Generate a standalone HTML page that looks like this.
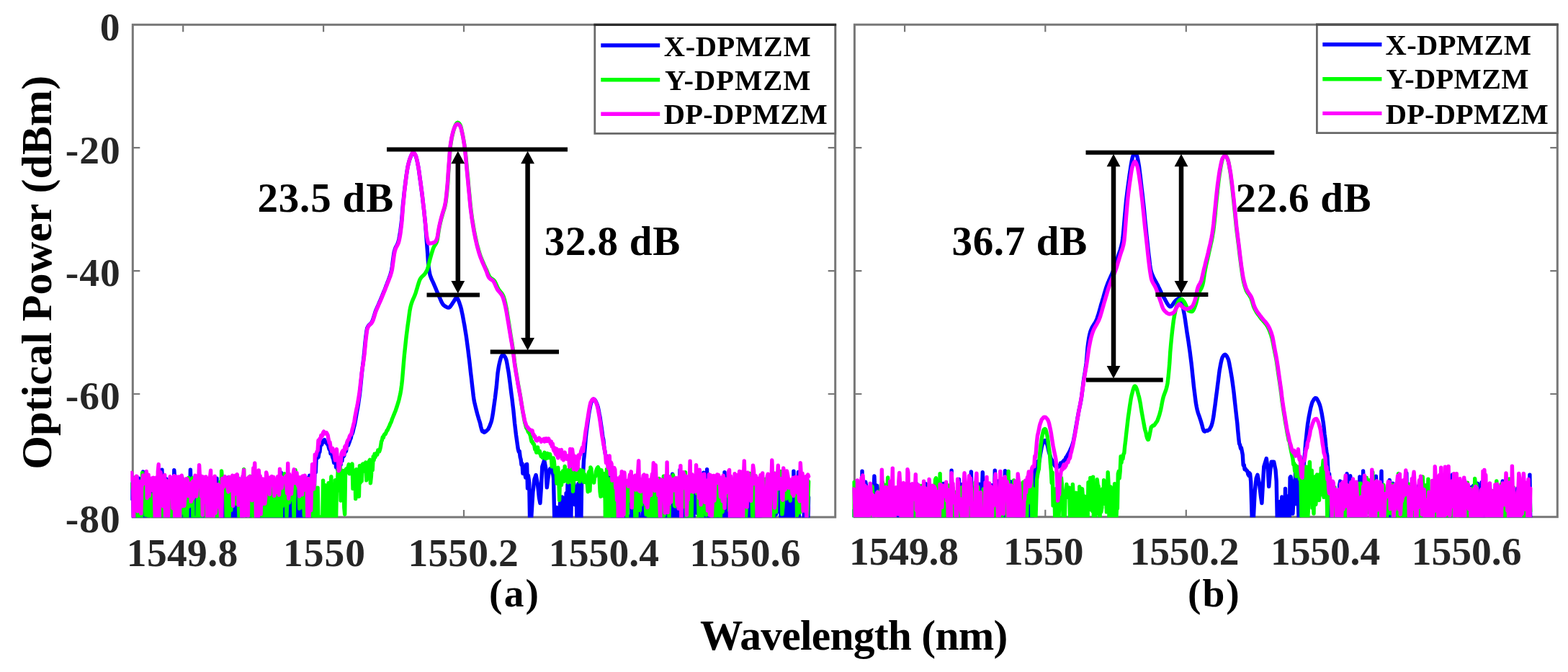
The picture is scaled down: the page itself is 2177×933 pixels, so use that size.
<!DOCTYPE html>
<html lang="en">
<head>
<meta charset="utf-8">
<title>Optical spectra: X-DPMZM, Y-DPMZM and DP-DPMZM</title>
<style>
html,body{margin:0;padding:0;background:#fff;}
body{width:2177px;height:933px;overflow:hidden;}
svg{display:block;filter:blur(0.6px);}
text{font-family:"Liberation Serif","Times New Roman",serif;font-weight:bold;fill:#000;}
.tk{fill:#262626;}
</style>
</head>
<body>
<svg width="2177" height="933" viewBox="0 0 2177 933">
<rect width="2177" height="933" fill="#fff"/>

<!-- left axes (a) -->
<rect x="184.3" y="34.3" width="975.4" height="683.7" fill="none" stroke="#777777" stroke-width="3"/>
<path d="M254.2,34.3v10M254.2,718.0v-10M449.1,34.3v10M449.1,718.0v-10M644.0,34.3v10M644.0,718.0v-10M838.9,34.3v10M838.9,718.0v-10M1033.8,34.3v10M1033.8,718.0v-10M184.3,205.2h10M1159.7,205.2h-10M184.3,376.1h10M1159.7,376.1h-10M184.3,547.0h10M1159.7,547.0h-10" fill="none" stroke="#777777" stroke-width="2.2"/>
<clipPath id="clipL"><rect x="181.3" y="34.3" width="978.4" height="684.3"/></clipPath>
<g clip-path="url(#clipL)" fill="none" stroke-width="5.4" stroke-linejoin="round" stroke-linecap="round">
<path stroke="#0000ff" d="M182.6,692.1 L183.5,672.5 184.5,668.0 185.4,723.2 186.4,674.4 187.3,691.8 188.2,698.1 189.2,726.0 190.1,695.0 191.1,726.0 192.0,726.0 192.9,664.2 193.9,700.4 194.8,726.0 195.8,669.8
196.7,688.6 197.6,677.8 198.6,654.9 199.5,726.0 200.5,726.0 201.4,726.0 202.3,705.3 203.3,726.0 204.2,726.0 205.2,726.0 206.1,675.5 207.0,699.8 208.0,686.7 208.9,672.5
209.9,669.3 210.8,664.7 211.7,669.2 212.7,704.6 213.6,726.0 214.6,666.5 215.5,726.0 216.4,673.9 217.4,726.0 218.3,703.2 219.3,726.0 220.2,691.2 221.1,688.4 222.1,668.1
223.0,726.0 224.0,701.1 224.9,652.2 225.8,696.5 226.8,726.0 227.7,726.0 228.7,726.0 229.6,726.0 230.5,664.6 231.5,692.3 232.4,701.0 233.4,666.7 234.3,726.0 235.2,724.4
236.2,726.0 237.1,726.0 238.1,707.0 239.0,711.7 239.9,726.0 240.9,726.0 241.8,652.8 242.8,667.4 243.7,722.5 244.6,681.5 245.6,726.0 246.5,726.0 247.5,697.0 248.4,726.0
249.3,688.9 250.3,726.0 251.2,726.0 252.2,726.0 253.1,700.8 254.0,690.7 255.0,724.6 255.9,680.8 256.9,726.0 257.8,697.9 258.7,676.6 259.7,696.9 260.6,726.0 261.6,685.6
262.5,721.6 263.4,699.6 264.4,652.2 265.3,690.5 266.3,670.3 267.2,726.0 268.1,726.0 269.1,690.7 270.0,726.0 271.0,717.0 271.9,670.7 272.8,726.0 273.8,726.0 274.7,726.0
275.7,726.0 276.6,704.4 277.5,669.6 278.5,666.6 279.4,681.2 280.4,726.0 281.3,674.2 282.2,726.0 283.2,720.8 284.1,701.1 285.1,726.0 286.0,726.0 286.9,678.4 287.9,695.9
288.8,726.0 289.8,664.6 290.7,726.0 291.6,687.3 292.6,726.0 293.5,711.6 294.5,666.6 295.4,701.3 296.3,666.9 297.3,707.5 298.2,671.7 299.2,666.9 300.1,726.0 301.0,664.2
302.0,726.0 302.9,683.6 303.9,695.9 304.8,685.5 305.7,726.0 306.7,726.0 307.6,662.6 308.6,678.4 309.5,726.0 310.4,703.7 311.4,726.0 312.3,726.0 313.3,698.9 314.2,673.2
315.1,689.9 316.1,714.9 317.0,662.9 318.0,717.8 318.9,699.7 319.8,681.6 320.8,714.9 321.7,709.7 322.7,726.0 323.6,676.6 324.5,726.0 325.5,687.5 326.4,725.6 327.4,684.0
328.3,726.0 329.2,726.0 330.2,726.0 331.1,689.5 332.1,726.0 333.0,665.3 333.9,667.8 334.9,726.0 335.8,726.0 336.8,716.0 337.7,684.5 338.6,726.0 339.6,667.9 340.5,666.5
341.5,726.0 342.4,726.0 343.3,690.9 344.3,699.0 345.2,726.0 346.2,726.0 347.1,704.7 348.0,706.8 349.0,668.1 349.9,683.7 350.9,702.3 351.8,667.9 352.7,654.8 353.7,709.9
354.6,681.9 355.6,670.5 356.5,726.0 357.4,690.6 358.4,726.0 359.3,669.3 360.3,664.7 361.2,726.0 362.1,724.2 363.1,726.0 364.0,677.6 365.0,667.4 365.9,685.2 366.8,703.9
367.8,726.0 368.7,698.9 369.7,696.5 370.6,694.1 371.5,726.0 372.5,726.0 373.4,690.0 374.4,705.7 375.3,704.3 376.2,686.5 377.2,726.0 378.1,707.0 379.1,726.0 380.0,713.4
380.9,686.3 381.9,683.9 382.8,726.0 383.8,726.0 384.7,726.0 385.6,676.6 386.6,711.5 387.5,726.0 388.5,702.0 389.4,726.0 390.3,656.2 391.3,662.0 392.2,667.5 393.2,726.0
394.1,670.5 395.0,726.0 396.0,686.9 396.9,726.0 397.9,703.5 398.8,680.7 399.7,726.0 400.7,721.6 401.6,726.0 402.6,726.0 403.5,697.1 404.4,720.0 405.4,706.5 406.3,726.0
407.3,726.0 408.2,699.6 409.1,726.0 410.1,726.0 411.0,665.8 412.0,726.0 412.9,702.9 413.8,674.9 414.8,683.1 415.7,721.7 416.7,666.1 417.6,726.0 418.5,666.4 419.5,669.7
420.4,714.7 421.4,693.3 422.3,685.7 423.2,726.0 424.2,726.0 425.1,687.2 426.1,701.4 427.0,663.9 427.9,726.0 428.9,713.6 429.8,660.3 430.8,718.6 431.7,671.4 432.6,683.8
433.6,699.8 434.5,686.0 435.5,683.7 436.4,675.6 437.3,643.5 438.3,655.8 439.2,633.7 440.2,629.2 441.1,635.5 442.0,634.7 443.0,628.7 443.9,627.5 444.9,618.6 445.8,617.5
446.7,617.4 447.7,611.9 448.6,614.3 449.6,613.4 450.5,610.6 451.4,612.9 452.4,613.5 453.3,615.0 454.3,616.7 455.2,616.7 456.1,620.0 457.1,623.7 458.0,621.9 459.0,629.8
459.9,628.0 460.8,630.9 461.8,635.2 462.7,637.1 463.7,642.6 464.6,636.6 465.5,628.3 466.5,648.6 467.4,640.3 468.4,651.6 469.3,651.0 470.2,644.2 471.2,653.0 472.1,643.8
473.1,645.4 474.0,637.4 474.9,640.0 475.9,629.7 476.8,633.8 477.8,632.5 478.7,625.8 479.6,627.5 480.6,626.0 481.5,617.6 482.5,618.5 483.4,618.3 484.3,615.8 485.3,613.3
486.2,610.2 487.2,608.2 488.1,603.2 489.0,602.3 490.0,599.3 490.9,595.1 491.9,591.3 492.8,587.5 493.7,582.5 494.7,576.5 495.6,571.5 496.6,566.2 497.5,560.7 498.4,554.7
499.4,547.8 500.3,539.5 501.3,529.4 502.2,519.6 503.1,511.6 504.1,504.2 505.0,496.4 506.0,486.9 506.9,476.6 507.8,468.1 508.8,460.5 509.7,455.7 510.7,453.7 511.6,452.3
512.5,451.2 513.5,450.4 514.4,449.5 515.4,448.5 516.3,447.1 517.2,445.2 518.2,442.5 519.1,439.4 520.1,436.2 521.0,433.3 521.9,430.9 522.9,428.6 523.8,426.4 524.8,424.3
525.7,422.2 526.6,420.1 527.6,417.9 528.5,415.7 529.5,413.4 530.4,411.2 531.3,408.9 532.3,406.6 533.2,404.3 534.2,402.0 535.1,399.6 536.0,397.1 537.0,394.7 537.9,392.2
538.9,389.8 539.8,387.4 540.7,384.9 541.7,382.2 542.6,379.0 543.6,375.3 544.5,369.6 545.4,362.3 546.4,355.1 547.3,349.5 548.3,346.2 549.2,343.8 550.1,342.0 551.1,340.3
552.0,338.3 553.0,335.7 553.9,332.1 554.8,327.1 555.8,320.9 556.7,313.8 557.7,305.2 558.6,294.1 559.5,283.6 560.5,274.5 561.4,265.8 562.4,257.7 563.3,250.4 564.2,243.5
565.2,237.1 566.1,231.6 567.1,227.4 568.0,224.0 568.9,221.0 569.9,218.4 570.8,216.2 571.8,214.1 572.7,212.3 573.6,211.8 574.6,212.4 575.5,213.4 576.5,214.9 577.4,216.7
578.3,219.9 579.3,224.1 580.2,228.8 581.2,234.1 582.1,240.5 583.0,247.3 584.0,254.2 584.9,261.3 585.9,268.7 586.8,276.3 587.7,284.3 588.7,292.5 589.6,301.3 590.6,311.4
591.5,323.4 592.4,335.8 593.4,348.4 594.3,361.8 595.3,372.4 596.2,377.9 597.1,381.8 598.1,384.8 599.0,387.2 600.0,389.3 600.9,391.2 601.8,393.2 602.8,395.4 603.7,397.6
604.7,399.9 605.6,402.1 606.5,404.4 607.5,406.5 608.4,408.6 609.4,410.7 610.3,412.9 611.2,415.1 612.2,417.3 613.1,419.4 614.1,421.2 615.0,422.6 615.9,423.6 616.9,424.4
617.8,425.1 618.8,425.7 619.7,426.2 620.6,426.7 621.6,427.0 622.5,427.1 623.5,427.0 624.4,426.4 625.3,425.4 626.3,424.1 627.2,422.7 628.2,421.2 629.1,419.8 630.0,418.5
631.0,416.9 631.9,415.2 632.9,413.8 633.8,413.3 634.7,413.8 635.7,415.2 636.6,417.3 637.6,419.8 638.5,422.5 639.4,425.3 640.4,428.9 641.3,433.2 642.3,437.8 643.2,442.7
644.1,447.7 645.1,453.1 646.0,458.8 647.0,464.9 647.9,471.2 648.8,478.0 649.8,485.3 650.7,492.9 651.7,500.7 652.6,508.8 653.5,517.1 654.5,525.4 655.4,533.6 656.4,542.0
657.3,549.9 658.2,556.1 659.2,560.7 660.1,564.3 661.1,568.5 662.0,572.0 662.9,575.4 663.9,578.8 664.8,582.0 665.8,585.0 666.7,588.1 667.6,592.4 668.6,596.1 669.5,598.7
670.5,599.4 671.4,598.8 672.3,600.3 673.3,599.8 674.2,599.1 675.2,598.3 676.1,597.7 677.0,596.5 678.0,595.7 678.9,593.4 679.9,591.7 680.8,588.9 681.7,586.7 682.7,583.3
683.6,578.6 684.6,572.5 685.5,565.9 686.4,559.3 687.4,552.3 688.3,544.8 689.3,536.7 690.2,526.7 691.1,517.3 692.1,511.0 693.0,506.1 694.0,501.9 694.9,498.4 695.8,495.7
696.8,493.9 697.7,492.7 698.7,492.6 699.6,493.3 700.5,494.6 701.5,496.1 702.4,498.1 703.4,501.6 704.3,506.4 705.2,511.7 706.2,517.4 707.1,524.2 708.1,531.5 709.0,538.8
709.9,546.1 710.9,553.4 711.8,561.2 712.8,569.3 713.7,578.4 714.6,587.8 715.6,596.2 716.5,603.9 717.5,610.8 718.4,617.3 719.3,623.5 720.3,627.2 721.2,626.5 722.2,634.8
723.1,637.7 724.0,645.4 725.0,643.6 725.9,657.4 726.9,657.1 727.8,657.6 728.7,657.3 729.7,663.0 730.6,644.8 731.6,644.6 732.5,677.9 733.4,660.0 734.7,669.6 735.6,722.0
737.5,722.0 739.8,684.0 742.0,665.3 744.1,659.5 746.3,671.0 748.5,691.3 749.9,698.5 751.4,676.8 752.8,647.9 755.7,639.2 757.9,650.8 759.3,676.8 761.5,659.5 763.7,650.8
766.6,649.3 768.5,664.0 769.8,722.0 770.1,726.0 771.0,726.0 772.0,706.9 772.9,704.5 773.9,721.9 774.8,726.0 775.7,726.0 776.7,726.0 777.6,697.0 778.6,698.3 779.5,702.1
780.4,690.0 781.4,726.0 782.3,717.8 783.3,709.3 784.2,691.1 785.1,718.6 786.1,684.7 787.0,726.0 788.0,672.7 788.9,677.5 789.8,672.8 790.8,726.0 791.7,675.1 792.7,726.0
793.6,679.2 794.5,688.2 795.5,668.0 796.4,668.7 797.4,675.8 798.3,700.7 799.2,687.2 800.2,691.8 801.1,726.0 802.1,675.4 803.0,671.6 803.9,705.3 804.9,726.0 805.8,684.1
806.8,726.0 807.7,664.8 808.6,653.1 809.6,657.3 810.5,639.0 811.5,629.9 812.4,619.2 813.3,607.7 814.3,598.7 815.2,592.2 816.2,585.0 817.1,578.1 818.0,572.3 819.0,567.0
819.9,562.2 820.9,558.7 821.8,557.0 822.7,555.3 823.7,554.6 824.6,554.3 825.6,554.9 826.5,556.1 827.4,557.8 828.4,559.9 829.3,562.2 830.3,565.6 831.2,569.8 832.1,574.8
833.1,579.6 834.0,586.1 835.0,592.7 835.9,598.8 836.8,606.3 837.8,610.5 838.7,620.3 839.7,625.7 840.6,631.4 841.5,632.9 842.5,640.5 843.4,637.1 844.4,646.4 845.3,647.6
846.2,663.7 847.2,653.1 848.1,675.0 849.1,700.2 850.0,685.1 850.9,726.0 851.9,675.0 852.8,670.6 853.8,713.5 854.7,669.9 855.6,670.1 856.6,714.5 857.5,726.0 858.5,726.0
859.4,703.3 860.3,726.0 861.3,726.0 862.2,696.2 863.2,683.8 864.1,681.0 865.0,726.0 866.0,701.5 866.9,686.6 867.9,690.8 868.8,709.3 869.7,726.0 870.7,726.0 871.6,726.0
872.6,726.0 873.5,726.0 874.4,724.2 875.4,716.1 876.3,726.0 877.3,664.0 878.2,687.5 879.1,726.0 880.1,714.4 881.0,726.0 882.0,717.4 882.9,726.0 883.8,726.0 884.8,697.9
885.7,726.0 886.7,711.5 887.6,726.0 888.5,726.0 889.5,726.0 890.4,719.0 891.4,726.0 892.3,726.0 893.2,676.0 894.2,726.0 895.1,726.0 896.1,697.2 897.0,676.2 897.9,726.0
898.9,726.0 899.8,726.0 900.8,675.2 901.7,707.8 902.6,726.0 903.6,708.7 904.5,665.4 905.5,695.7 906.4,712.8 907.3,724.3 908.3,672.2 909.2,690.5 910.2,726.0 911.1,726.0
912.0,698.4 913.0,723.3 913.9,726.0 914.9,695.8 915.8,671.6 916.7,726.0 917.7,686.8 918.6,668.4 919.6,721.4 920.5,726.0 921.4,722.2 922.4,722.9 923.3,703.6 924.3,726.0
925.2,669.4 926.1,726.0 927.1,700.6 928.0,693.6 929.0,678.5 929.9,723.0 930.8,696.4 931.8,726.0 932.7,702.5 933.7,658.2 934.6,671.2 935.5,705.6 936.5,676.1 937.4,721.7
938.4,682.2 939.3,679.7 940.2,704.1 941.2,712.7 942.1,726.0 943.1,726.0 944.0,652.1 944.9,672.3 945.9,680.4 946.8,672.5 947.8,725.2 948.7,681.3 949.6,681.7 950.6,709.0
951.5,726.0 952.5,712.7 953.4,726.0 954.3,685.6 955.3,700.0 956.2,681.4 957.2,721.4 958.1,726.0 959.0,693.9 960.0,681.1 960.9,712.1 961.9,678.0 962.8,726.0 963.7,692.3
964.7,665.2 965.6,704.1 966.6,672.4 967.5,698.0 968.4,712.9 969.4,689.5 970.3,674.2 971.3,659.0 972.2,707.2 973.1,726.0 974.1,700.8 975.0,665.3 976.0,712.2 976.9,656.3
977.8,726.0 978.8,726.0 979.7,667.4 980.7,704.6 981.6,651.8 982.5,726.0 983.5,671.8 984.4,715.3 985.4,726.0 986.3,703.8 987.2,726.0 988.2,700.0 989.1,671.1 990.1,722.8
991.0,726.0 991.9,669.5 992.9,709.0 993.8,726.0 994.8,726.0 995.7,722.8 996.6,726.0 997.6,726.0 998.5,664.5 999.5,695.3 1000.4,692.8 1001.3,670.5 1002.3,726.0 1003.2,680.4
1004.2,690.5 1005.1,726.0 1006.0,655.7 1007.0,685.6 1007.9,718.4 1008.9,726.0 1009.8,668.1 1010.7,726.0 1011.7,721.2 1012.6,726.0 1013.6,711.5 1014.5,721.1 1015.4,726.0 1016.4,719.3
1017.3,695.5 1018.3,726.0 1019.2,668.9 1020.1,671.9 1021.1,710.4 1022.0,676.9 1023.0,679.4 1023.9,717.5 1024.8,694.9 1025.8,726.0 1026.7,680.8 1027.7,726.0 1028.6,726.0 1029.5,682.3
1030.5,681.9 1031.4,685.4 1032.4,726.0 1033.3,696.3 1034.2,716.6 1035.2,688.5 1036.1,715.7 1037.1,723.3 1038.0,670.8 1038.9,660.0 1039.9,693.1 1040.8,677.8 1041.8,724.6 1042.7,688.5
1043.6,674.1 1044.6,710.4 1045.5,668.3 1046.5,662.9 1047.4,699.3 1048.3,669.2 1049.3,726.0 1050.2,726.0 1051.2,664.5 1052.1,726.0 1053.0,714.5 1054.0,685.8 1054.9,685.9 1055.9,672.2
1056.8,666.5 1057.7,726.0 1058.7,726.0 1059.6,726.0 1060.6,708.7 1061.5,671.7 1062.4,726.0 1063.4,688.8 1064.3,726.0 1065.3,723.2 1066.2,710.6 1067.1,667.9 1068.1,668.7 1069.0,687.5
1070.0,726.0 1070.9,688.4 1071.8,726.0 1072.8,711.8 1073.7,685.2 1074.7,726.0 1075.6,671.2 1076.5,670.8 1077.5,714.0 1078.4,680.4 1079.4,685.2 1080.3,710.4 1081.2,688.3 1082.2,667.6
1083.1,679.7 1084.1,726.0 1085.0,708.4 1085.9,720.4 1086.9,672.9 1087.8,709.3 1088.8,677.7 1089.7,726.0 1090.6,691.4 1091.6,697.3 1092.5,695.3 1093.5,669.8 1094.4,668.5 1095.3,726.0
1096.3,726.0 1097.2,726.0 1098.2,702.5 1099.1,714.5 1100.0,672.9 1101.0,726.0 1101.9,654.1 1102.9,699.7 1103.8,691.2 1104.7,713.8 1105.7,671.1 1106.6,666.5 1107.6,720.0 1108.5,655.4
1109.4,726.0 1110.4,726.0 1111.3,726.0 1112.3,726.0 1113.2,726.0 1114.1,726.0 1115.1,719.9 1116.0,726.0 1117.0,681.3 1117.9,692.4 1118.8,704.8 1119.8,698.1 1120.7,665.4 1121.7,726.0
1122.6,690.5"/>
<path stroke="#00ff00" d="M182.6,672.2 L183.5,675.7 184.5,680.2 185.4,689.7 186.4,663.3 187.3,688.2 188.2,668.3 189.2,666.3 190.1,679.5 191.1,726.0 192.0,680.4 192.9,670.4 193.9,680.7 194.8,670.9 195.8,726.0
196.7,709.5 197.6,656.5 198.6,665.6 199.5,691.8 200.5,690.0 201.4,672.5 202.3,715.1 203.3,694.6 204.2,680.8 205.2,660.8 206.1,674.7 207.0,726.0 208.0,726.0 208.9,699.1
209.9,687.5 210.8,726.0 211.7,687.4 212.7,726.0 213.6,683.4 214.6,665.1 215.5,701.8 216.4,669.5 217.4,664.1 218.3,715.1 219.3,726.0 220.2,726.0 221.1,657.4 222.1,704.4
223.0,669.2 224.0,667.5 224.9,692.4 225.8,674.6 226.8,726.0 227.7,685.7 228.7,672.3 229.6,726.0 230.5,694.6 231.5,673.4 232.4,671.7 233.4,667.9 234.3,698.8 235.2,711.8
236.2,704.9 237.1,726.0 238.1,726.0 239.0,695.5 239.9,679.4 240.9,723.9 241.8,726.0 242.8,666.4 243.7,682.1 244.6,671.8 245.6,663.7 246.5,664.5 247.5,666.7 248.4,726.0
249.3,726.0 250.3,725.8 251.2,674.3 252.2,712.2 253.1,663.5 254.0,688.7 255.0,686.4 255.9,667.2 256.9,726.0 257.8,682.2 258.7,675.4 259.7,723.2 260.6,669.0 261.6,663.4
262.5,703.0 263.4,664.9 264.4,686.7 265.3,679.8 266.3,688.6 267.2,663.6 268.1,726.0 269.1,724.4 270.0,726.0 271.0,726.0 271.9,726.0 272.8,718.5 273.8,726.0 274.7,676.9
275.7,706.7 276.6,700.0 277.5,679.8 278.5,726.0 279.4,726.0 280.4,664.4 281.3,692.8 282.2,711.0 283.2,711.5 284.1,684.8 285.1,668.7 286.0,726.0 286.9,666.3 287.9,664.9
288.8,674.1 289.8,726.0 290.7,676.2 291.6,724.1 292.6,688.7 293.5,682.2 294.5,716.1 295.4,726.0 296.3,664.2 297.3,667.3 298.2,666.0 299.2,726.0 300.1,681.6 301.0,726.0
302.0,726.0 302.9,694.1 303.9,690.2 304.8,712.3 305.7,669.2 306.7,707.8 307.6,653.9 308.6,668.1 309.5,673.6 310.4,662.2 311.4,684.2 312.3,666.9 313.3,667.8 314.2,721.3
315.1,721.9 316.1,695.6 317.0,667.9 318.0,718.4 318.9,694.0 319.8,664.6 320.8,708.3 321.7,681.5 322.7,687.4 323.6,691.6 324.5,686.1 325.5,672.5 326.4,669.5 327.4,696.7
328.3,699.6 329.2,667.9 330.2,663.4 331.1,692.6 332.1,722.9 333.0,687.8 333.9,666.8 334.9,674.0 335.8,696.6 336.8,698.1 337.7,700.7 338.6,651.6 339.6,726.0 340.5,675.6
341.5,681.5 342.4,726.0 343.3,672.0 344.3,726.0 345.2,718.9 346.2,673.1 347.1,661.3 348.0,683.0 349.0,684.9 349.9,671.3 350.9,717.9 351.8,670.8 352.7,671.8 353.7,681.4
354.6,672.5 355.6,681.7 356.5,678.4 357.4,665.6 358.4,663.1 359.3,685.8 360.3,693.6 361.2,714.1 362.1,698.9 363.1,706.8 364.0,718.0 365.0,681.2 365.9,676.9 366.8,713.4
367.8,693.6 368.7,712.3 369.7,722.5 370.6,678.3 371.5,691.1 372.5,721.8 373.4,667.9 374.4,723.4 375.3,712.1 376.2,715.7 377.2,680.2 378.1,682.7 379.1,726.0 380.0,665.1
380.9,702.5 381.9,726.0 382.8,726.0 383.8,683.3 384.7,699.9 385.6,720.4 386.6,678.8 387.5,690.1 388.5,708.1 389.4,720.8 390.3,723.0 391.3,677.4 392.2,702.9 393.2,690.8
394.1,678.4 395.0,657.6 396.0,675.4 396.9,669.0 397.9,717.1 398.8,695.7 399.7,678.8 400.7,677.6 401.6,697.7 402.6,674.7 403.5,685.6 404.4,678.4 405.4,665.0 406.3,694.0
407.3,679.7 408.2,726.0 409.1,676.9 410.1,652.5 411.0,677.3 412.0,673.9 412.9,663.8 413.8,666.2 414.8,667.2 415.7,706.0 416.7,674.8 417.6,670.4 418.5,687.3 419.5,693.4
420.4,705.0 421.4,668.4 422.3,715.8 423.2,669.1 424.2,692.1 425.1,678.6 426.1,674.8 427.0,677.5 427.9,707.4 428.9,670.4 429.8,693.8 430.8,664.1 431.7,726.0 432.6,664.6
433.6,684.2 434.5,699.5 435.5,719.1 436.4,665.2 437.3,719.2 438.3,724.6 439.2,693.2 440.2,718.2 441.1,677.1 442.0,726.0 443.0,726.0 443.9,721.7 444.9,724.5 445.8,717.8
446.7,726.0 447.7,726.0 448.6,667.2 449.6,726.0 450.5,726.0 451.4,673.6 452.4,726.0 453.3,691.3 454.3,726.0 455.2,726.0 456.1,670.8 457.1,726.0 458.0,715.4 459.0,677.1
459.9,661.7 460.8,726.0 461.8,683.9 462.7,676.2 463.7,676.0 464.6,726.0 465.5,666.6 466.5,726.0 467.4,677.8 468.4,673.3 469.3,651.7 470.2,680.9 471.2,653.4 472.1,646.9
473.1,695.0 474.0,656.5 474.9,664.6 475.9,653.5 476.8,658.9 477.8,704.7 478.7,714.2 479.6,652.8 480.6,651.0 481.5,656.0 482.5,651.4 483.4,648.1 484.3,644.8 485.3,657.9
486.2,647.7 487.2,645.8 488.1,647.3 489.0,644.0 490.0,678.4 490.9,657.2 491.9,663.5 492.8,653.6 493.7,692.5 494.7,651.6 495.6,658.1 496.6,674.2 497.5,665.4 498.4,689.3
499.4,646.6 500.3,670.3 501.3,650.9 502.2,668.0 503.1,645.0 504.1,644.0 505.0,654.1 506.0,648.8 506.9,651.2 507.8,641.9 508.8,666.8 509.7,657.7 510.7,648.8 511.6,663.0
512.5,640.3 513.5,638.4 514.4,670.8 515.4,661.0 516.3,643.3 517.2,652.9 518.2,633.6 519.1,639.0 520.1,630.2 521.0,634.8 521.9,630.4 522.9,629.2 523.8,631.2 524.8,624.9
525.7,626.5 526.6,626.8 527.6,623.8 528.5,619.8 529.5,613.0 530.4,611.2 531.3,606.9 532.3,607.5 533.2,604.0 534.2,602.8 535.1,602.7 536.0,600.6 537.0,597.8 537.9,597.5
538.9,595.0 539.8,592.9 540.7,591.2 541.7,588.5 542.6,586.9 543.6,584.4 544.5,581.5 545.4,579.5 546.4,576.9 547.3,574.9 548.3,572.3 549.2,570.2 550.1,567.4 551.1,564.5
552.0,561.5 553.0,558.4 553.9,555.1 554.8,551.2 555.8,546.9 556.7,541.5 557.7,534.4 558.6,526.1 559.5,515.0 560.5,503.1 561.4,492.8 562.4,483.4 563.3,474.7 564.2,466.6
565.2,458.9 566.1,451.7 567.1,444.8 568.0,437.8 568.9,431.4 569.9,426.4 570.8,422.9 571.8,419.9 572.7,417.4 573.6,415.2 574.6,413.1 575.5,410.9 576.5,408.5 577.4,405.8
578.3,402.8 579.3,399.5 580.2,396.3 581.2,393.2 582.1,390.4 583.0,388.1 584.0,386.5 584.9,385.2 585.9,384.2 586.8,383.3 587.7,382.5 588.7,381.6 589.6,380.5 590.6,379.2
591.5,377.7 592.4,375.9 593.4,373.8 594.3,370.8 595.3,367.0 596.2,363.1 597.1,359.5 598.1,356.1 599.0,352.8 600.0,349.6 600.9,346.6 601.8,344.1 602.8,342.1 603.7,340.6
604.7,339.2 605.6,337.7 606.5,335.5 607.5,331.4 608.4,325.0 609.4,318.5 610.3,313.7 611.2,309.6 612.2,305.8 613.1,302.2 614.1,298.7 615.0,295.5 615.9,292.7 616.9,289.7
617.8,286.2 618.8,281.3 619.7,274.5 620.6,266.0 621.6,255.4 622.5,240.8 623.5,227.0 624.4,214.1 625.3,203.4 626.3,196.8 627.2,191.5 628.2,187.2 629.1,183.6 630.0,180.3
631.0,177.3 631.9,174.7 632.9,172.7 633.8,171.4 634.7,170.5 635.7,170.2 636.6,170.6 637.6,171.5 638.5,172.8 639.4,174.6 640.4,178.0 641.3,182.4 642.3,187.1 643.2,191.8
644.1,197.0 645.1,202.9 646.0,210.1 647.0,219.3 647.9,229.3 648.8,239.1 649.8,249.3 650.7,259.4 651.7,269.3 652.6,279.2 653.5,288.4 654.5,296.1 655.4,302.9 656.4,308.9
657.3,314.5 658.2,319.7 659.2,324.7 660.1,329.4 661.1,333.8 662.0,337.9 662.9,341.6 663.9,345.1 664.8,348.4 665.8,351.5 666.7,354.3 667.6,357.0 668.6,359.4 669.5,361.7
670.5,363.9 671.4,366.0 672.3,368.1 673.3,370.1 674.2,372.1 675.2,374.1 676.1,376.2 677.0,378.5 678.0,380.8 678.9,382.9 679.9,384.5 680.8,385.6 681.7,386.4 682.7,387.0
683.6,387.6 684.6,388.3 685.5,389.1 686.4,390.1 687.4,391.6 688.3,393.5 689.3,395.6 690.2,397.7 691.1,399.7 692.1,401.4 693.0,402.8 694.0,404.0 694.9,405.1 695.8,406.3
696.8,407.5 697.7,408.9 698.7,410.7 699.6,413.1 700.5,416.5 701.5,420.4 702.4,424.6 703.4,429.6 704.3,435.2 705.2,441.0 706.2,446.9 707.1,453.1 708.1,459.3 709.0,465.2
709.9,470.7 710.9,476.3 711.8,482.2 712.8,488.9 713.7,496.4 714.6,503.8 715.6,510.5 716.5,516.5 717.5,522.1 718.4,527.6 719.3,533.0 720.3,538.3 721.2,543.4 722.2,548.6
723.1,554.1 724.0,560.2 725.0,566.3 725.9,572.0 726.9,577.0 727.8,582.2 728.7,586.7 729.7,590.0 730.6,593.7 731.6,595.3 732.5,597.0 733.4,599.7 734.4,600.4 735.3,602.2
736.3,604.6 737.2,609.3 738.1,613.0 739.1,613.1 740.0,616.0 741.0,616.2 741.9,618.7 742.8,624.1 743.8,624.5 744.7,628.2 745.7,624.6 746.6,621.1 747.5,628.2 748.5,626.6
749.4,626.5 750.4,631.1 751.3,633.5 752.2,631.3 753.2,635.3 754.1,633.5 755.1,635.4 756.0,628.3 756.9,632.5 757.9,636.9 758.8,635.8 759.8,629.5 760.7,635.8 761.6,630.1
762.6,632.7 763.5,630.5 764.5,636.1 765.4,635.6 766.3,647.9 767.3,643.4 768.2,635.9 769.2,639.7 770.1,649.3 771.0,656.1 772.0,651.0 772.9,671.0 773.9,661.5 774.8,649.2
775.7,663.8 776.7,694.3 777.6,656.7 778.6,663.3 779.5,673.5 780.4,662.7 781.4,654.0 782.3,654.2 783.3,668.2 784.2,647.4 785.1,660.0 786.1,667.7 787.0,659.1 788.0,652.9
788.9,669.9 789.8,661.6 790.8,649.9 791.7,667.9 792.7,647.4 793.6,652.3 794.5,649.0 795.5,682.2 796.4,664.3 797.4,650.0 798.3,659.8 799.2,656.8 800.2,665.6 801.1,662.0
802.1,651.2 803.0,652.5 803.9,651.9 804.9,668.9 805.8,654.3 806.8,652.9 807.7,652.9 808.6,663.6 809.6,653.6 810.5,669.2 811.5,658.4 812.4,669.5 813.3,665.3 814.3,666.9
815.2,671.0 816.2,682.8 817.1,657.2 818.0,654.6 819.0,681.4 819.9,649.0 820.9,650.6 821.8,666.8 822.7,662.1 823.7,665.6 824.6,670.1 825.6,661.4 826.5,661.6 827.4,654.9
828.4,651.6 829.3,649.7 830.3,648.7 831.2,650.4 832.1,663.2 833.1,682.9 834.0,689.4 835.0,652.8 835.9,666.5 836.8,662.0 837.8,657.4 838.7,688.9 839.7,660.9 840.6,726.0
841.5,679.2 842.5,651.4 843.4,721.8 844.4,710.0 845.3,694.2 846.2,671.2 847.2,664.9 848.1,666.4 849.1,726.0 850.0,670.5 850.9,726.0 851.9,688.0 852.8,678.2 853.8,718.7
854.7,704.6 855.6,674.7 856.6,680.3 857.5,702.4 858.5,664.5 859.4,687.4 860.3,668.1 861.3,687.1 862.2,707.2 863.2,666.2 864.1,667.0 865.0,693.2 866.0,661.1 866.9,674.1
867.9,714.3 868.8,712.2 869.7,668.5 870.7,717.9 871.6,690.1 872.6,679.6 873.5,675.7 874.4,674.1 875.4,682.1 876.3,695.9 877.3,696.4 878.2,696.3 879.1,677.8 880.1,703.0
881.0,673.2 882.0,724.5 882.9,705.3 883.8,726.0 884.8,662.7 885.7,680.8 886.7,676.9 887.6,664.9 888.5,708.4 889.5,669.3 890.4,700.8 891.4,682.6 892.3,696.6 893.2,670.1
894.2,689.6 895.1,692.0 896.1,695.5 897.0,714.6 897.9,681.9 898.9,667.1 899.8,667.8 900.8,726.0 901.7,726.0 902.6,666.5 903.6,726.0 904.5,726.0 905.5,694.9 906.4,726.0
907.3,679.8 908.3,720.6 909.2,673.6 910.2,675.9 911.1,667.7 912.0,689.8 913.0,726.0 913.9,725.4 914.9,664.5 915.8,712.5 916.7,684.6 917.7,679.1 918.6,665.6 919.6,687.1
920.5,726.0 921.4,661.3 922.4,715.0 923.3,672.2 924.3,699.9 925.2,669.9 926.1,671.9 927.1,667.3 928.0,661.8 929.0,722.5 929.9,666.8 930.8,681.7 931.8,670.0 932.7,667.4
933.7,665.0 934.6,659.6 935.5,672.1 936.5,702.2 937.4,702.9 938.4,671.8 939.3,688.9 940.2,697.8 941.2,665.3 942.1,680.2 943.1,696.5 944.0,698.7 944.9,654.9 945.9,667.9
946.8,682.2 947.8,668.2 948.7,699.1 949.6,669.5 950.6,703.6 951.5,655.6 952.5,709.7 953.4,726.0 954.3,726.0 955.3,675.8 956.2,726.0 957.2,661.3 958.1,726.0 959.0,695.5
960.0,723.5 960.9,667.8 961.9,679.8 962.8,677.7 963.7,666.1 964.7,676.8 965.6,681.8 966.6,676.0 967.5,685.0 968.4,673.8 969.4,683.8 970.3,723.1 971.3,711.3 972.2,681.4
973.1,666.5 974.1,678.5 975.0,719.6 976.0,679.9 976.9,697.1 977.8,673.3 978.8,673.7 979.7,685.2 980.7,715.0 981.6,712.4 982.5,709.3 983.5,711.3 984.4,678.9 985.4,701.3
986.3,661.3 987.2,692.5 988.2,676.3 989.1,718.1 990.1,673.2 991.0,684.0 991.9,685.1 992.9,726.0 993.8,692.4 994.8,671.8 995.7,692.2 996.6,667.7 997.6,715.7 998.5,704.3
999.5,714.7 1000.4,717.9 1001.3,669.4 1002.3,711.4 1003.2,710.3 1004.2,680.8 1005.1,692.3 1006.0,695.6 1007.0,665.0 1007.9,668.8 1008.9,674.7 1009.8,688.1 1010.7,677.4 1011.7,671.0
1012.6,708.5 1013.6,701.0 1014.5,663.4 1015.4,664.3 1016.4,705.7 1017.3,668.4 1018.3,712.0 1019.2,672.3 1020.1,669.1 1021.1,710.1 1022.0,664.9 1023.0,667.0 1023.9,668.0 1024.8,673.2
1025.8,685.3 1026.7,697.5 1027.7,668.2 1028.6,665.4 1029.5,669.8 1030.5,684.5 1031.4,726.0 1032.4,695.2 1033.3,655.9 1034.2,663.0 1035.2,723.6 1036.1,704.9 1037.1,674.2 1038.0,679.7
1038.9,668.5 1039.9,671.5 1040.8,657.2 1041.8,666.4 1042.7,672.4 1043.6,668.8 1044.6,713.7 1045.5,726.0 1046.5,674.1 1047.4,688.3 1048.3,671.7 1049.3,675.0 1050.2,679.6 1051.2,707.3
1052.1,691.4 1053.0,702.9 1054.0,683.3 1054.9,678.8 1055.9,710.1 1056.8,693.8 1057.7,694.3 1058.7,690.1 1059.6,690.0 1060.6,726.0 1061.5,677.6 1062.4,665.1 1063.4,726.0 1064.3,691.0
1065.3,726.0 1066.2,665.3 1067.1,664.9 1068.1,705.9 1069.0,668.7 1070.0,674.0 1070.9,726.0 1071.8,688.1 1072.8,674.1 1073.7,726.0 1074.7,680.7 1075.6,657.1 1076.5,708.9 1077.5,710.8
1078.4,669.0 1079.4,665.0 1080.3,671.3 1081.2,665.2 1082.2,665.2 1083.1,657.6 1084.1,654.6 1085.0,662.1 1085.9,713.9 1086.9,703.5 1087.8,690.1 1088.8,667.4 1089.7,666.8 1090.6,665.1
1091.6,692.4 1092.5,689.0 1093.5,669.6 1094.4,687.1 1095.3,677.2 1096.3,687.8 1097.2,695.2 1098.2,667.4 1099.1,668.2 1100.0,669.9 1101.0,668.9 1101.9,666.0 1102.9,676.0 1103.8,686.7
1104.7,675.6 1105.7,664.2 1106.6,715.5 1107.6,686.0 1108.5,673.5 1109.4,666.8 1110.4,711.5 1111.3,669.4 1112.3,684.8 1113.2,667.7 1114.1,702.1 1115.1,681.6 1116.0,703.9 1117.0,698.3
1117.9,677.9 1118.8,668.5 1119.8,695.1 1120.7,716.1 1121.7,700.6 1122.6,668.7"/>
<path stroke="#ff00ff" d="M182.6,656.4 L183.5,666.2 184.5,665.2 185.4,726.0 186.4,676.8 187.3,675.6 188.2,664.1 189.2,661.2 190.1,661.4 191.1,709.7 192.0,699.8 192.9,668.2 193.9,679.8 194.8,668.4 195.8,712.8
196.7,675.6 197.6,672.6 198.6,659.9 199.5,663.4 200.5,662.1 201.4,662.1 202.3,671.8 203.3,654.5 204.2,691.5 205.2,663.6 206.1,659.2 207.0,688.6 208.0,679.6 208.9,664.1
209.9,678.0 210.8,663.9 211.7,680.6 212.7,663.1 213.6,663.5 214.6,693.2 215.5,726.0 216.4,672.1 217.4,663.0 218.3,726.0 219.3,654.4 220.2,644.8 221.1,726.0 222.1,664.4
223.0,655.8 224.0,673.3 224.9,675.7 225.8,670.2 226.8,702.9 227.7,682.4 228.7,659.4 229.6,726.0 230.5,667.2 231.5,670.3 232.4,691.2 233.4,726.0 234.3,685.8 235.2,673.8
236.2,661.8 237.1,664.0 238.1,672.7 239.0,665.0 239.9,705.5 240.9,695.0 241.8,660.6 242.8,724.2 243.7,710.1 244.6,661.8 245.6,726.0 246.5,674.7 247.5,667.5 248.4,662.0
249.3,726.0 250.3,662.6 251.2,663.6 252.2,660.2 253.1,664.8 254.0,702.6 255.0,682.1 255.9,702.3 256.9,689.0 257.8,673.7 258.7,664.6 259.7,664.9 260.6,668.0 261.6,688.5
262.5,687.9 263.4,672.1 264.4,671.3 265.3,696.4 266.3,670.3 267.2,668.7 268.1,692.1 269.1,679.0 270.0,672.9 271.0,660.3 271.9,672.9 272.8,689.1 273.8,672.9 274.7,660.9
275.7,669.2 276.6,645.6 277.5,664.2 278.5,666.0 279.4,688.7 280.4,661.4 281.3,715.0 282.2,674.6 283.2,662.4 284.1,696.8 285.1,669.5 286.0,661.9 286.9,683.4 287.9,726.0
288.8,670.8 289.8,678.5 290.7,686.9 291.6,662.1 292.6,653.2 293.5,726.0 294.5,682.8 295.4,681.5 296.3,716.9 297.3,674.5 298.2,661.1 299.2,712.3 300.1,703.8 301.0,696.6
302.0,683.2 302.9,672.7 303.9,686.2 304.8,704.2 305.7,705.2 306.7,721.4 307.6,721.5 308.6,664.4 309.5,667.8 310.4,676.2 311.4,666.0 312.3,661.6 313.3,667.7 314.2,667.9
315.1,664.1 316.1,677.4 317.0,682.9 318.0,662.3 318.9,662.9 319.8,680.8 320.8,662.5 321.7,666.5 322.7,660.1 323.6,702.3 324.5,671.1 325.5,669.2 326.4,686.0 327.4,659.9
328.3,665.3 329.2,658.7 330.2,666.6 331.1,701.1 332.1,689.1 333.0,665.7 333.9,683.4 334.9,671.1 335.8,719.0 336.8,661.6 337.7,660.6 338.6,652.8 339.6,716.2 340.5,702.1
341.5,672.3 342.4,664.8 343.3,666.5 344.3,716.3 345.2,662.8 346.2,671.6 347.1,661.7 348.0,668.9 349.0,680.0 349.9,694.7 350.9,685.8 351.8,650.0 352.7,660.3 353.7,642.9
354.6,672.8 355.6,721.5 356.5,687.0 357.4,675.7 358.4,726.0 359.3,652.9 360.3,666.7 361.2,660.9 362.1,713.6 363.1,665.3 364.0,699.8 365.0,665.0 365.9,678.6 366.8,680.8
367.8,699.3 368.7,690.1 369.7,655.9 370.6,659.8 371.5,670.7 372.5,677.8 373.4,668.2 374.4,686.3 375.3,662.9 376.2,664.0 377.2,661.5 378.1,662.1 379.1,673.6 380.0,662.4
380.9,688.3 381.9,677.5 382.8,682.4 383.8,670.0 384.7,683.4 385.6,661.8 386.6,676.6 387.5,687.2 388.5,651.3 389.4,676.1 390.3,661.9 391.3,677.5 392.2,669.9 393.2,664.1
394.1,666.9 395.0,665.0 396.0,664.7 396.9,660.9 397.9,677.9 398.8,685.2 399.7,643.4 400.7,692.0 401.6,658.3 402.6,662.8 403.5,681.1 404.4,685.7 405.4,673.3 406.3,666.2
407.3,656.8 408.2,651.8 409.1,663.5 410.1,670.7 411.0,658.5 412.0,656.5 412.9,666.9 413.8,674.8 414.8,671.7 415.7,689.0 416.7,662.8 417.6,670.7 418.5,675.6 419.5,686.9
420.4,661.0 421.4,680.7 422.3,666.5 423.2,660.1 424.2,664.4 425.1,669.9 426.1,671.7 427.0,725.4 427.9,664.6 428.9,726.0 429.8,670.1 430.8,679.9 431.7,708.5 432.6,672.4
433.6,644.6 434.5,661.0 435.5,678.9 436.4,670.2 437.3,631.2 438.3,633.1 439.2,630.2 440.2,626.6 441.1,625.5 442.0,611.3 443.0,616.1 443.9,609.2 444.9,609.5 445.8,604.5
446.7,606.0 447.7,604.7 448.6,600.7 449.6,599.2 450.5,600.9 451.4,602.0 452.4,600.7 453.3,600.7 454.3,602.5 455.2,604.6 456.1,609.9 457.1,614.7 458.0,614.1 459.0,620.9
459.9,623.7 460.8,626.7 461.8,622.3 462.7,625.8 463.7,628.7 464.6,632.6 465.5,639.0 466.5,634.5 467.4,623.8 468.4,638.5 469.3,635.2 470.2,653.8 471.2,652.0 472.1,638.9
473.1,643.2 474.0,630.3 474.9,627.5 475.9,625.8 476.8,630.6 477.8,631.0 478.7,620.6 479.6,618.9 480.6,623.1 481.5,615.2 482.5,612.2 483.4,610.6 484.3,609.9 485.3,606.0
486.2,604.2 487.2,603.7 488.1,601.3 489.0,596.4 490.0,593.3 490.9,589.1 491.9,585.5 492.8,579.1 493.7,574.5 494.7,569.2 495.6,565.1 496.6,560.0 497.5,554.8 498.4,549.3
499.4,542.5 500.3,534.3 501.3,525.7 502.2,517.8 503.1,511.3 504.1,505.4 505.0,499.2 506.0,491.6 506.9,481.7 507.8,472.4 508.8,464.4 509.7,457.7 510.7,454.7 511.6,453.0
512.5,451.8 513.5,450.8 514.4,450.0 515.4,449.1 516.3,447.9 517.2,446.3 518.2,444.0 519.1,441.1 520.1,437.9 521.0,434.8 521.9,432.2 522.9,429.8 523.8,427.6 524.8,425.4
525.7,423.3 526.6,421.2 527.6,419.1 528.5,416.9 529.5,414.6 530.4,412.4 531.3,410.1 532.3,407.8 533.2,405.5 534.2,403.2 535.1,400.8 536.0,398.4 537.0,396.0 537.9,393.5
538.9,391.1 539.8,388.8 540.7,386.4 541.7,383.9 542.6,381.0 543.6,377.7 544.5,373.6 545.4,367.3 546.4,360.1 547.3,353.3 548.3,348.4 549.2,345.5 550.1,343.4 551.1,341.6
552.0,339.9 553.0,337.8 553.9,335.0 554.8,330.8 555.8,325.1 556.7,318.1 557.7,310.1 558.6,299.0 559.5,286.9 560.5,276.9 561.4,267.5 562.4,258.8 563.3,251.1 564.2,244.0
565.2,237.3 566.1,231.7 567.1,227.4 568.0,223.9 568.9,220.8 569.9,218.2 570.8,215.9 571.8,213.8 572.7,211.9 573.6,211.3 574.6,211.9 575.5,213.0 576.5,214.5 577.4,216.4
578.3,219.6 579.3,223.8 580.2,228.5 581.2,233.8 582.1,240.2 583.0,247.0 584.0,253.9 584.9,261.0 585.9,268.4 586.8,276.0 587.7,284.1 588.7,292.9 589.6,301.7 590.6,310.3
591.5,319.4 592.4,327.3 593.4,332.4 594.3,336.4 595.3,338.0 596.2,338.0 597.1,337.9 598.1,337.8 599.0,337.6 600.0,337.4 600.9,337.2 601.8,336.9 602.8,336.6 603.7,336.2
604.7,335.2 605.6,333.6 606.5,331.5 607.5,327.9 608.4,322.0 609.4,316.4 610.3,312.1 611.2,308.1 612.2,304.3 613.1,300.7 614.1,297.2 615.0,294.2 615.9,291.4 616.9,288.3
617.8,284.4 618.8,278.9 619.7,271.5 620.6,262.6 621.6,251.2 622.5,237.1 623.5,224.1 624.4,211.5 625.3,201.7 626.3,195.5 627.2,190.3 628.2,186.1 629.1,182.6 630.0,179.7
631.0,177.1 631.9,175.0 632.9,173.6 633.8,172.8 634.7,172.3 635.7,172.2 636.6,172.7 637.6,173.5 638.5,174.6 639.4,176.2 640.4,179.3 641.3,183.2 642.3,187.4 643.2,192.1
644.1,197.7 645.1,204.2 646.0,212.2 647.0,222.2 647.9,232.4 648.8,242.4 649.8,252.6 650.7,262.6 651.7,272.4 652.6,282.2 653.5,291.0 654.5,298.5 655.4,305.1 656.4,311.2
657.3,316.8 658.2,322.0 659.2,327.0 660.1,331.6 661.1,335.9 662.0,339.9 662.9,343.6 663.9,347.1 664.8,350.3 665.8,353.3 666.7,356.1 667.6,358.6 668.6,361.1 669.5,363.4
670.5,365.6 671.4,367.7 672.3,369.8 673.3,372.0 674.2,374.1 675.2,376.4 676.1,378.9 677.0,381.6 678.0,383.9 678.9,385.6 679.9,386.6 680.8,387.4 681.7,388.0 682.7,388.5
683.6,389.2 684.6,390.0 685.5,391.3 686.4,393.0 687.4,395.1 688.3,397.3 689.3,399.4 690.2,401.3 691.1,402.8 692.1,404.0 693.0,405.1 694.0,406.1 694.9,407.2 695.8,408.4
696.8,409.9 697.7,411.7 698.7,414.2 699.6,417.4 700.5,420.9 701.5,424.8 702.4,429.3 703.4,434.4 704.3,439.7 705.2,445.1 706.2,450.8 707.1,456.7 708.1,462.5 709.0,468.0
709.9,473.3 710.9,478.9 711.8,484.9 712.8,491.8 713.7,499.1 714.6,506.1 715.6,512.3 716.5,518.1 717.5,523.6 718.4,528.9 719.3,534.2 720.3,539.3 721.2,544.2 722.2,549.3
723.1,554.8 724.0,560.2 725.0,566.0 725.9,571.2 726.9,576.0 727.8,580.5 728.7,584.9 729.7,587.6 730.6,590.3 731.6,592.4 732.5,593.0 733.4,594.5 734.4,595.6 735.3,596.4
736.3,597.0 737.2,598.1 738.1,597.5 739.1,598.0 740.0,603.1 741.0,603.2 741.9,606.6 742.8,605.8 743.8,610.2 744.7,611.7 745.7,611.9 746.6,610.0 747.5,609.4 748.5,608.1
749.4,609.6 750.4,609.8 751.3,613.3 752.2,610.7 753.2,610.3 754.1,610.1 755.1,609.4 756.0,613.1 756.9,609.4 757.9,609.0 758.8,608.9 759.8,612.5 760.7,610.0 761.6,609.0
762.6,611.5 763.5,613.1 764.5,616.2 765.4,613.1 766.3,619.8 767.3,616.0 768.2,623.4 769.2,626.0 770.1,621.9 771.0,628.9 772.0,631.3 772.9,623.3 773.9,631.9 774.8,635.8
775.7,626.8 776.7,624.9 777.6,626.0 778.6,625.4 779.5,624.7 780.4,637.0 781.4,636.0 782.3,638.6 783.3,630.1 784.2,628.1 785.1,634.7 786.1,635.4 787.0,637.3 788.0,632.9
788.9,636.5 789.8,636.1 790.8,648.2 791.7,623.4 792.7,632.6 793.6,638.0 794.5,623.6 795.5,631.8 796.4,651.7 797.4,632.9 798.3,633.7 799.2,635.3 800.2,652.2 801.1,639.7
802.1,650.0 803.0,631.9 803.9,637.0 804.9,631.5 805.8,631.1 806.8,626.3 807.7,624.0 808.6,621.2 809.6,626.5 810.5,615.5 811.5,611.2 812.4,603.5 813.3,597.2 814.3,591.6
815.2,585.1 816.2,579.5 817.1,573.6 818.0,568.1 819.0,563.0 819.9,559.0 820.9,557.4 821.8,555.5 822.7,554.5 823.7,553.8 824.6,554.1 825.6,555.1 826.5,556.8 827.4,558.7
828.4,560.9 829.3,564.1 830.3,568.3 831.2,573.2 832.1,578.3 833.1,584.7 834.0,591.2 835.0,598.3 835.9,605.2 836.8,609.9 837.8,616.4 838.7,620.1 839.7,626.5 840.6,631.6
841.5,642.9 842.5,635.0 843.4,644.0 844.4,649.8 845.3,641.5 846.2,632.9 847.2,658.3 848.1,641.6 849.1,644.0 850.0,667.1 850.9,651.2 851.9,657.4 852.8,649.4 853.8,651.9
854.7,677.2 855.6,669.8 856.6,694.1 857.5,664.1 858.5,726.0 859.4,674.5 860.3,715.4 861.3,661.7 862.2,709.3 863.2,654.7 864.1,723.8 865.0,679.7 866.0,713.9 866.9,656.0
867.9,670.0 868.8,666.9 869.7,669.8 870.7,668.9 871.6,669.2 872.6,675.2 873.5,666.0 874.4,659.2 875.4,660.3 876.3,654.8 877.3,704.7 878.2,666.9 879.1,661.7 880.1,670.6
881.0,669.7 882.0,660.3 882.9,680.0 883.8,661.1 884.8,668.3 885.7,656.3 886.7,639.7 887.6,681.5 888.5,666.6 889.5,682.6 890.4,667.0 891.4,679.0 892.3,667.6 893.2,660.1
894.2,659.1 895.1,697.2 896.1,663.6 897.0,700.2 897.9,660.2 898.9,704.6 899.8,693.1 900.8,687.4 901.7,666.5 902.6,672.5 903.6,687.6 904.5,665.6 905.5,658.1 906.4,666.7
907.3,642.8 908.3,671.6 909.2,681.4 910.2,645.6 911.1,668.1 912.0,664.0 913.0,670.3 913.9,687.6 914.9,670.3 915.8,695.4 916.7,724.5 917.7,667.2 918.6,665.9 919.6,667.1
920.5,688.8 921.4,675.4 922.4,690.6 923.3,712.0 924.3,660.5 925.2,697.0 926.1,642.0 927.1,711.4 928.0,666.5 929.0,699.7 929.9,661.8 930.8,686.6 931.8,697.0 932.7,665.4
933.7,670.0 934.6,671.9 935.5,680.8 936.5,668.3 937.4,663.9 938.4,663.7 939.3,687.2 940.2,701.1 941.2,689.1 942.1,706.0 943.1,661.6 944.0,671.7 944.9,646.8 945.9,726.0
946.8,669.4 947.8,665.5 948.7,655.7 949.6,658.7 950.6,677.9 951.5,670.9 952.5,661.2 953.4,715.0 954.3,686.7 955.3,694.0 956.2,668.1 957.2,676.9 958.1,640.2 959.0,682.2
960.0,669.1 960.9,658.6 961.9,670.2 962.8,683.1 963.7,660.9 964.7,682.1 965.6,682.2 966.6,645.6 967.5,668.8 968.4,658.0 969.4,665.3 970.3,691.1 971.3,652.3 972.2,668.9
973.1,700.7 974.1,658.8 975.0,679.8 976.0,672.3 976.9,666.5 977.8,658.2 978.8,697.4 979.7,671.8 980.7,667.1 981.6,680.3 982.5,708.9 983.5,684.3 984.4,658.8 985.4,715.1
986.3,659.6 987.2,665.4 988.2,716.8 989.1,700.4 990.1,660.7 991.0,660.5 991.9,695.1 992.9,668.4 993.8,667.5 994.8,662.5 995.7,658.9 996.6,670.4 997.6,659.5 998.5,663.9
999.5,671.3 1000.4,689.8 1001.3,667.8 1002.3,663.2 1003.2,695.7 1004.2,660.1 1005.1,671.3 1006.0,705.3 1007.0,665.1 1007.9,684.3 1008.9,671.0 1009.8,673.1 1010.7,675.7 1011.7,654.4
1012.6,652.5 1013.6,726.0 1014.5,661.1 1015.4,721.5 1016.4,666.6 1017.3,674.3 1018.3,726.0 1019.2,720.2 1020.1,657.6 1021.1,663.3 1022.0,705.0 1023.0,659.6 1023.9,661.9 1024.8,726.0
1025.8,663.1 1026.7,654.4 1027.7,726.0 1028.6,674.5 1029.5,655.1 1030.5,659.6 1031.4,726.0 1032.4,663.1 1033.3,639.9 1034.2,673.9 1035.2,673.4 1036.1,672.6 1037.1,704.0 1038.0,656.3
1038.9,657.9 1039.9,671.5 1040.8,664.6 1041.8,669.3 1042.7,695.4 1043.6,670.7 1044.6,670.6 1045.5,646.2 1046.5,653.2 1047.4,671.5 1048.3,667.6 1049.3,660.7 1050.2,663.3 1051.2,720.6
1052.1,664.8 1053.0,669.4 1054.0,726.0 1054.9,670.8 1055.9,659.7 1056.8,669.4 1057.7,720.1 1058.7,657.0 1059.6,686.4 1060.6,726.0 1061.5,726.0 1062.4,681.0 1063.4,726.0 1064.3,685.3
1065.3,661.3 1066.2,658.2 1067.1,664.5 1068.1,660.0 1069.0,726.0 1070.0,678.8 1070.9,672.8 1071.8,639.0 1072.8,665.5 1073.7,668.6 1074.7,664.2 1075.6,705.0 1076.5,690.9 1077.5,657.2
1078.4,660.3 1079.4,663.2 1080.3,646.2 1081.2,678.6 1082.2,665.5 1083.1,677.5 1084.1,664.7 1085.0,666.7 1085.9,692.3 1086.9,694.2 1087.8,649.9 1088.8,664.8 1089.7,680.3 1090.6,677.7
1091.6,659.0 1092.5,653.9 1093.5,659.2 1094.4,664.4 1095.3,677.4 1096.3,666.0 1097.2,669.5 1098.2,674.1 1099.1,670.9 1100.0,685.6 1101.0,663.2 1101.9,688.4 1102.9,677.7 1103.8,679.3
1104.7,662.0 1105.7,674.9 1106.6,679.3 1107.6,684.3 1108.5,662.7 1109.4,692.9 1110.4,695.8 1111.3,642.8 1112.3,661.0 1113.2,681.0 1114.1,657.2 1115.1,709.1 1116.0,686.5 1117.0,703.3
1117.9,699.8 1118.8,661.7 1119.8,726.0 1120.7,660.4 1121.7,659.1 1122.6,661.4"/>
</g>
<rect x="825.8" y="34.3" width="333.9" height="151.1" fill="#fff" stroke="#6a6a6a" stroke-width="2.8"/>
<line x1="824.4" y1="34.3" x2="1161.1" y2="34.3" stroke="#2c2c2c" stroke-width="3.2"/>
<line x1="834.3" y1="63" x2="916.2" y2="63" stroke="#0000ff" stroke-width="5.4"/>
<text x="921.8" y="78.2" font-size="40.5" letter-spacing="0.61">X-DPMZM</text>
<line x1="834.3" y1="110.7" x2="916.2" y2="110.7" stroke="#00ff00" stroke-width="5.4"/>
<text x="923.1" y="125.0" font-size="40.5" letter-spacing="0.99">Y-DPMZM</text>
<line x1="834.3" y1="158.2" x2="916.2" y2="158.2" stroke="#ff00ff" stroke-width="5.4"/>
<text x="921.8" y="172.2" font-size="40.5" letter-spacing="0.28">DP-DPMZM</text>
<!-- left annotations -->
<line x1="537" y1="207.6" x2="788" y2="207.6" stroke="#000" stroke-width="6"/>
<line x1="592.5" y1="409.4" x2="666" y2="409.4" stroke="#000" stroke-width="6"/>
<line x1="680.7" y1="488.4" x2="776" y2="488.4" stroke="#000" stroke-width="6"/>
<line x1="635.8" y1="225.3" x2="635.8" y2="392.1" stroke="#000" stroke-width="6.5"/>
<path d="M635.8,209.8 l9.4,17.5 h-18.8 z" fill="#000"/>
<path d="M635.8,407.6 l9.4,-17.5 h-18.8 z" fill="#000"/>
<line x1="732.6" y1="225.3" x2="732.6" y2="471.1" stroke="#000" stroke-width="6.5"/>
<path d="M732.6,209.8 l9.4,17.5 h-18.8 z" fill="#000"/>
<path d="M732.6,486.6 l9.4,-17.5 h-18.8 z" fill="#000"/>
<text x="357.4" y="293.7" font-size="57" letter-spacing="0.84">23.5 dB</text>
<text x="755.8" y="353.7" font-size="57" letter-spacing="0.80">32.8 dB</text>
<!-- right axes (b) -->
<rect x="1186.4" y="34.2" width="975.9" height="683.5" fill="none" stroke="#777777" stroke-width="3"/>
<path d="M1256.1,34.2v10M1256.1,717.7v-10M1451.3,34.2v10M1451.3,717.7v-10M1646.8,34.2v10M1646.8,717.7v-10M1842.2,34.2v10M1842.2,717.7v-10M2037.6,34.2v10M2037.6,717.7v-10M1186.4,205.2h10M2162.3,205.2h-10M1186.4,376.1h10M2162.3,376.1h-10M1186.4,547.0h10M2162.3,547.0h-10" fill="none" stroke="#777777" stroke-width="2.2"/>
<clipPath id="clipR"><rect x="1183.4" y="34.2" width="978.9" height="684.1"/></clipPath>
<g clip-path="url(#clipR)" fill="none" stroke-width="5.4" stroke-linejoin="round" stroke-linecap="round">
<path stroke="#0000ff" d="M1184.8,709.4 L1185.7,714.4 1186.7,726.0 1187.6,726.0 1188.6,679.4 1189.5,682.6 1190.4,726.0 1191.4,724.6 1192.3,696.8 1193.3,719.9 1194.2,701.0 1195.1,726.0 1196.1,726.0 1197.0,654.1 1198.0,726.0
1198.9,696.3 1199.8,690.1 1200.8,726.0 1201.7,669.2 1202.7,675.9 1203.6,721.2 1204.5,704.2 1205.5,679.5 1206.4,691.0 1207.4,697.5 1208.3,679.3 1209.2,718.0 1210.2,689.0 1211.1,690.1
1212.1,726.0 1213.0,681.8 1213.9,660.9 1214.9,680.8 1215.8,689.2 1216.8,693.6 1217.7,674.1 1218.6,680.4 1219.6,699.3 1220.5,726.0 1221.5,680.2 1222.4,726.0 1223.3,726.0 1224.3,697.8
1225.2,726.0 1226.2,720.6 1227.1,702.0 1228.0,679.5 1229.0,726.0 1229.9,726.0 1230.9,726.0 1231.8,726.0 1232.7,695.3 1233.7,726.0 1234.6,726.0 1235.6,687.1 1236.5,683.5 1237.4,677.2
1238.4,704.9 1239.3,710.4 1240.3,712.0 1241.2,726.0 1242.1,726.0 1243.1,724.4 1244.0,725.4 1245.0,712.2 1245.9,726.0 1246.8,697.8 1247.8,677.3 1248.7,683.6 1249.7,721.9 1250.6,726.0
1251.5,726.0 1252.5,697.9 1253.4,724.9 1254.4,712.8 1255.3,703.3 1256.2,726.0 1257.2,726.0 1258.1,680.0 1259.1,684.5 1260.0,726.0 1260.9,710.9 1261.9,687.0 1262.8,726.0 1263.8,673.2
1264.7,714.3 1265.6,726.0 1266.6,702.1 1267.5,715.6 1268.5,713.0 1269.4,716.7 1270.3,726.0 1271.3,693.1 1272.2,671.1 1273.2,673.4 1274.1,726.0 1275.0,695.6 1276.0,719.4 1276.9,705.7
1277.9,706.9 1278.8,717.4 1279.7,689.1 1280.7,698.2 1281.6,687.7 1282.6,726.0 1283.5,700.8 1284.4,726.0 1285.4,671.6 1286.3,689.7 1287.3,726.0 1288.2,705.5 1289.1,673.1 1290.1,678.7
1291.0,678.7 1292.0,678.9 1292.9,726.0 1293.8,698.9 1294.8,704.0 1295.7,701.8 1296.7,726.0 1297.6,701.4 1298.5,712.3 1299.5,726.0 1300.4,715.0 1301.4,726.0 1302.3,726.0 1303.2,718.6
1304.2,678.8 1305.1,675.0 1306.1,726.0 1307.0,712.1 1307.9,726.0 1308.9,720.5 1309.8,671.4 1310.8,726.0 1311.7,680.4 1312.6,723.0 1313.6,726.0 1314.5,719.0 1315.5,726.0 1316.4,726.0
1317.3,715.7 1318.3,696.3 1319.2,719.2 1320.2,726.0 1321.1,653.1 1322.0,695.0 1323.0,700.8 1323.9,698.7 1324.9,699.3 1325.8,703.7 1326.7,726.0 1327.7,726.0 1328.6,726.0 1329.6,726.0
1330.5,725.1 1331.4,665.4 1332.4,721.6 1333.3,726.0 1334.3,726.0 1335.2,672.7 1336.1,685.7 1337.1,673.7 1338.0,699.8 1339.0,725.5 1339.9,679.2 1340.8,708.3 1341.8,693.4 1342.7,715.7
1343.7,676.4 1344.6,679.8 1345.5,680.1 1346.5,726.0 1347.4,679.3 1348.4,654.9 1349.3,726.0 1350.2,712.6 1351.2,676.8 1352.1,726.0 1353.1,701.3 1354.0,722.1 1354.9,675.9 1355.9,726.0
1356.8,726.0 1357.8,726.0 1358.7,726.0 1359.6,672.3 1360.6,679.2 1361.5,713.2 1362.5,726.0 1363.4,682.7 1364.3,655.7 1365.3,699.6 1366.2,710.7 1367.2,726.0 1368.1,712.4 1369.0,688.4
1370.0,677.7 1370.9,726.0 1371.9,726.0 1372.8,726.0 1373.7,679.2 1374.7,693.5 1375.6,726.0 1376.6,673.7 1377.5,726.0 1378.4,712.4 1379.4,726.0 1380.3,701.4 1381.3,653.1 1382.2,701.6
1383.1,685.0 1384.1,667.7 1385.0,672.7 1386.0,697.0 1386.9,686.6 1387.8,681.7 1388.8,717.5 1389.7,726.0 1390.7,690.0 1391.6,718.7 1392.5,676.1 1393.5,718.6 1394.4,689.0 1395.4,653.8
1396.3,702.6 1397.2,726.0 1398.2,670.6 1399.1,726.0 1400.1,680.1 1401.0,682.0 1401.9,726.0 1402.9,668.8 1403.8,696.6 1404.8,726.0 1405.7,678.8 1406.6,711.5 1407.6,726.0 1408.5,726.0
1409.5,722.8 1410.4,688.2 1411.3,726.0 1412.3,717.1 1413.2,726.0 1414.2,726.0 1415.1,700.4 1416.0,677.7 1417.0,726.0 1417.9,726.0 1418.9,726.0 1419.8,718.5 1420.7,726.0 1421.7,686.2
1422.6,709.3 1423.6,708.4 1424.5,701.6 1425.4,726.0 1426.4,721.6 1427.3,712.0 1428.3,690.5 1429.2,724.2 1430.1,726.0 1431.1,685.7 1432.0,726.0 1433.0,721.0 1433.9,684.8 1434.8,675.9
1435.8,687.5 1436.7,641.9 1437.7,666.1 1438.6,661.7 1439.5,647.4 1440.5,649.7 1441.4,640.1 1442.4,642.3 1443.3,638.4 1444.2,631.7 1445.2,626.8 1446.1,621.4 1447.1,617.5 1448.0,615.0
1448.9,612.8 1449.9,612.1 1450.8,611.5 1451.8,612.5 1452.7,614.5 1453.6,616.3 1454.6,619.7 1455.5,624.2 1456.5,628.3 1457.4,630.7 1458.3,634.2 1459.3,637.1 1460.2,638.3 1461.2,640.7
1462.1,643.1 1463.0,644.4 1464.0,645.8 1464.9,647.0 1465.9,647.9 1466.8,647.4 1467.7,647.2 1468.7,648.7 1469.6,647.5 1470.6,646.3 1471.5,647.4 1472.4,643.0 1473.4,644.1 1474.3,643.7
1475.3,641.3 1476.2,641.1 1477.1,639.2 1478.1,638.6 1479.0,637.6 1480.0,635.0 1480.9,634.3 1481.8,632.5 1482.8,630.6 1483.7,629.1 1484.7,627.2 1485.6,625.5 1486.5,623.1 1487.5,621.1
1488.4,618.9 1489.4,615.8 1490.3,612.3 1491.2,607.9 1492.2,602.7 1493.1,597.4 1494.1,591.5 1495.0,586.8 1495.9,581.1 1496.9,575.8 1497.8,570.5 1498.8,566.0 1499.7,561.8 1500.6,557.1
1501.6,551.3 1502.5,544.0 1503.5,536.0 1504.4,528.8 1505.3,522.7 1506.3,517.0 1507.2,510.9 1508.2,503.8 1509.1,493.5 1510.0,482.0 1511.0,474.7 1511.9,468.8 1512.9,464.1 1513.8,460.7
1514.7,458.1 1515.7,455.9 1516.6,454.0 1517.6,452.4 1518.5,450.9 1519.4,449.4 1520.4,447.9 1521.3,446.2 1522.3,444.2 1523.2,441.9 1524.1,439.1 1525.1,436.1 1526.0,432.9 1527.0,429.6
1527.9,426.2 1528.8,422.8 1529.8,419.6 1530.7,416.4 1531.7,413.2 1532.6,409.9 1533.5,406.7 1534.5,403.5 1535.4,400.5 1536.4,397.7 1537.3,395.1 1538.2,392.7 1539.2,390.5 1540.1,388.3
1541.1,386.2 1542.0,384.2 1542.9,382.1 1543.9,380.0 1544.8,377.8 1545.8,375.4 1546.7,372.9 1547.6,370.3 1548.6,367.5 1549.5,364.7 1550.5,361.8 1551.4,358.8 1552.3,355.7 1553.3,352.8
1554.2,350.1 1555.2,347.3 1556.1,344.3 1557.0,340.7 1558.0,336.3 1558.9,330.0 1559.9,320.1 1560.8,309.2 1561.7,298.7 1562.7,287.9 1563.6,278.3 1564.6,270.2 1565.5,262.9 1566.4,256.0
1567.4,249.1 1568.3,242.2 1569.3,235.6 1570.2,229.7 1571.1,224.4 1572.1,219.5 1573.0,216.5 1574.0,214.9 1574.9,213.8 1575.8,213.5 1576.8,214.0 1577.7,215.2 1578.7,216.8 1579.6,220.3
1580.5,225.3 1581.5,231.1 1582.4,238.3 1583.4,246.4 1584.3,254.4 1585.2,262.2 1586.2,270.3 1587.1,278.7 1588.1,287.6 1589.0,297.0 1589.9,306.4 1590.9,315.8 1591.8,325.2 1592.8,334.2
1593.7,342.8 1594.6,351.1 1595.6,359.0 1596.5,367.4 1597.5,373.8 1598.4,377.4 1599.3,380.1 1600.3,382.3 1601.2,384.4 1602.2,386.4 1603.1,388.3 1604.0,390.0 1605.0,391.6 1605.9,393.3
1606.9,395.0 1607.8,396.9 1608.7,398.8 1609.7,400.8 1610.6,402.7 1611.6,404.7 1612.5,406.7 1613.4,408.5 1614.4,410.3 1615.3,412.0 1616.3,413.6 1617.2,415.3 1618.1,417.0 1619.1,418.8
1620.0,420.5 1621.0,422.0 1621.9,423.4 1622.8,424.5 1623.8,425.3 1624.7,425.7 1625.7,425.5 1626.6,424.8 1627.5,423.7 1628.5,422.4 1629.4,420.9 1630.4,419.5 1631.3,418.3 1632.2,417.4
1633.2,416.6 1634.1,415.8 1635.1,415.1 1636.0,414.6 1636.9,414.3 1637.9,414.3 1638.8,415.6 1639.8,417.9 1640.7,420.7 1641.6,423.7 1642.6,427.6 1643.5,432.4 1644.5,437.5 1645.4,443.2
1646.3,449.6 1647.3,456.3 1648.2,462.8 1649.2,468.8 1650.1,474.7 1651.0,481.0 1652.0,487.8 1652.9,495.1 1653.9,502.8 1654.8,510.9 1655.7,519.7 1656.7,529.1 1657.6,537.9 1658.6,545.6
1659.5,552.9 1660.4,559.8 1661.4,565.2 1662.3,569.4 1663.3,573.0 1664.2,575.7 1665.1,578.2 1666.1,581.1 1667.0,583.8 1668.0,587.1 1668.9,590.2 1669.8,594.0 1670.8,597.0 1671.7,598.5
1672.7,599.0 1673.6,598.1 1674.5,598.3 1675.5,597.7 1676.4,598.1 1677.4,597.3 1678.3,596.9 1679.2,596.7 1680.2,594.4 1681.1,593.0 1682.1,590.6 1683.0,587.4 1683.9,583.6 1684.9,578.1
1685.8,571.1 1686.8,564.1 1687.7,557.2 1688.6,549.8 1689.6,542.5 1690.5,535.2 1691.5,527.5 1692.4,520.0 1693.3,513.4 1694.3,508.0 1695.2,503.3 1696.2,499.2 1697.1,496.3 1698.0,494.7
1699.0,493.5 1699.9,492.6 1700.9,492.3 1701.8,492.7 1702.7,493.7 1703.7,495.3 1704.6,497.2 1705.6,499.5 1706.5,503.3 1707.4,508.2 1708.4,513.5 1709.3,518.8 1710.3,524.6 1711.2,530.9
1712.1,537.7 1713.1,545.4 1714.0,553.9 1715.0,562.8 1715.9,571.0 1716.8,579.0 1717.8,587.5 1718.7,597.9 1719.7,608.2 1720.6,616.0 1721.5,617.5 1722.5,622.4 1723.4,621.8 1724.4,626.8
1725.3,631.6 1726.2,645.9 1727.2,645.4 1728.1,651.7 1729.1,650.8 1730.0,652.3 1730.9,653.6 1731.9,654.0 1732.8,658.5 1733.8,660.3 1734.7,656.7 1735.6,658.0 1736.7,668.6 1738.3,722.0
1740.2,722.0 1742.2,682.4 1744.2,664.0 1745.9,659.4 1748.5,672.0 1750.6,690.0 1751.9,698.5 1753.4,672.0 1754.8,647.9 1758.3,636.5 1760.3,652.0 1761.7,675.5 1763.5,655.0 1765.2,641.1
1768.6,641.1 1771.0,652.5 1772.2,668.0 1773.3,722.0 1774.2,697.6 1775.1,718.2 1776.1,708.5 1777.0,696.4 1777.9,726.0 1778.9,710.8 1779.8,690.0 1780.8,700.5 1781.7,692.2 1782.6,705.0
1783.6,726.0 1784.5,678.5 1785.5,724.2 1786.4,697.5 1787.3,688.9 1788.3,726.0 1789.2,705.1 1790.2,726.0 1791.1,663.1 1792.0,661.8 1793.0,666.7 1793.9,677.7 1794.9,713.1 1795.8,696.2
1796.7,684.7 1797.7,699.9 1798.6,654.9 1799.6,682.5 1800.5,669.3 1801.4,658.4 1802.4,701.0 1803.3,726.0 1804.3,688.0 1805.2,656.3 1806.1,670.5 1807.1,699.5 1808.0,645.8 1809.0,650.7
1809.9,648.8 1810.8,637.7 1811.8,627.3 1812.7,614.8 1813.7,606.3 1814.6,597.3 1815.5,589.5 1816.5,583.3 1817.4,577.7 1818.4,572.8 1819.3,568.2 1820.2,564.4 1821.2,560.9 1822.1,558.2
1823.1,556.5 1824.0,554.9 1824.9,553.7 1825.9,552.8 1826.8,552.7 1827.8,553.1 1828.7,554.2 1829.6,555.9 1830.6,557.8 1831.5,560.1 1832.5,562.6 1833.4,565.9 1834.3,570.0 1835.3,574.9
1836.2,580.5 1837.2,586.4 1838.1,593.3 1839.0,602.8 1840.0,609.7 1840.9,620.1 1841.9,627.9 1842.8,632.7 1843.7,648.6 1844.7,666.3 1845.6,657.9 1846.6,705.0 1847.5,724.0 1848.4,721.5
1849.4,685.0 1850.3,726.0 1851.3,726.0 1852.2,707.7 1853.1,685.7 1854.1,694.6 1855.0,726.0 1856.0,715.4 1856.9,692.3 1857.8,689.2 1858.8,726.0 1859.7,673.8 1860.7,668.1 1861.6,669.4
1862.5,671.5 1863.5,714.5 1864.4,724.7 1865.4,720.7 1866.3,677.4 1867.2,677.5 1868.2,726.0 1869.1,670.4 1870.1,657.8 1871.0,676.6 1871.9,674.8 1872.9,678.8 1873.8,680.8 1874.8,660.7
1875.7,719.0 1876.6,722.8 1877.6,674.6 1878.5,726.0 1879.5,693.0 1880.4,726.0 1881.3,699.6 1882.3,692.0 1883.2,677.7 1884.2,703.8 1885.1,726.0 1886.0,714.3 1887.0,686.2 1887.9,662.0
1888.9,698.1 1889.8,695.2 1890.7,678.3 1891.7,725.4 1892.6,654.0 1893.6,680.4 1894.5,726.0 1895.4,723.8 1896.4,716.8 1897.3,692.5 1898.3,681.9 1899.2,694.5 1900.1,691.7 1901.1,710.9
1902.0,703.7 1903.0,673.3 1903.9,682.9 1904.8,726.0 1905.8,705.8 1906.7,713.6 1907.7,675.7 1908.6,697.3 1909.5,720.2 1910.5,661.3 1911.4,684.0 1912.4,716.7 1913.3,674.3 1914.2,705.3
1915.2,726.0 1916.1,724.6 1917.1,680.4 1918.0,654.3 1918.9,726.0 1919.9,705.9 1920.8,726.0 1921.8,716.1 1922.7,726.0 1923.6,696.9 1924.6,682.9 1925.5,726.0 1926.5,679.7 1927.4,684.4
1928.3,726.0 1929.3,666.5 1930.2,676.4 1931.2,726.0 1932.1,707.1 1933.0,710.6 1934.0,671.1 1934.9,681.2 1935.9,726.0 1936.8,694.7 1937.7,689.4 1938.7,697.0 1939.6,685.8 1940.6,693.3
1941.5,677.5 1942.4,690.2 1943.4,682.9 1944.3,680.3 1945.3,690.8 1946.2,702.0 1947.1,671.5 1948.1,707.1 1949.0,714.6 1950.0,721.5 1950.9,726.0 1951.8,706.3 1952.8,657.0 1953.7,709.5
1954.7,675.9 1955.6,679.2 1956.5,716.9 1957.5,696.3 1958.4,726.0 1959.4,678.5 1960.3,726.0 1961.2,703.4 1962.2,726.0 1963.1,679.1 1964.1,726.0 1965.0,687.1 1965.9,726.0 1966.9,713.8
1967.8,726.0 1968.8,726.0 1969.7,674.4 1970.6,693.9 1971.6,712.6 1972.5,700.2 1973.5,703.2 1974.4,726.0 1975.3,677.9 1976.3,704.2 1977.2,726.0 1978.2,691.0 1979.1,726.0 1980.0,726.0
1981.0,706.6 1981.9,700.8 1982.9,708.6 1983.8,726.0 1984.7,726.0 1985.7,713.3 1986.6,726.0 1987.6,709.6 1988.5,716.4 1989.4,706.7 1990.4,678.1 1991.3,726.0 1992.3,672.1 1993.2,726.0
1994.1,662.1 1995.1,724.8 1996.0,718.9 1997.0,679.9 1997.9,726.0 1998.8,700.6 1999.8,724.6 2000.7,717.3 2001.7,693.4 2002.6,710.5 2003.5,714.4 2004.5,696.9 2005.4,714.8 2006.4,688.9
2007.3,719.1 2008.2,723.4 2009.2,708.9 2010.1,724.3 2011.1,726.0 2012.0,689.7 2012.9,690.9 2013.9,726.0 2014.8,681.3 2015.8,695.3 2016.7,659.0 2017.6,703.5 2018.6,726.0 2019.5,675.7
2020.5,676.9 2021.4,688.1 2022.3,713.8 2023.3,678.2 2024.2,690.0 2025.2,704.9 2026.1,669.7 2027.0,698.6 2028.0,726.0 2028.9,712.9 2029.9,726.0 2030.8,678.8 2031.7,678.3 2032.7,665.5
2033.6,672.9 2034.6,708.4 2035.5,713.9 2036.4,726.0 2037.4,726.0 2038.3,678.2 2039.3,676.8 2040.2,678.9 2041.1,726.0 2042.1,684.2 2043.0,676.5 2044.0,691.7 2044.9,726.0 2045.8,674.1
2046.8,724.4 2047.7,691.4 2048.7,702.9 2049.6,689.7 2050.5,726.0 2051.5,671.2 2052.4,686.0 2053.4,709.8 2054.3,726.0 2055.2,726.0 2056.2,690.7 2057.1,669.7 2058.1,726.0 2059.0,707.9
2059.9,717.1 2060.9,726.0 2061.8,696.9 2062.8,715.0 2063.7,690.7 2064.6,690.2 2065.6,681.8 2066.5,704.0 2067.5,717.5 2068.4,673.2 2069.3,710.4 2070.3,726.0 2071.2,716.0 2072.2,726.0
2073.1,722.5 2074.0,726.0 2075.0,714.5 2075.9,701.5 2076.9,726.0 2077.8,700.4 2078.7,717.2 2079.7,707.6 2080.6,682.9 2081.6,689.6 2082.5,675.2 2083.4,726.0 2084.4,698.9 2085.3,675.7
2086.3,667.9 2087.2,697.9 2088.1,726.0 2089.1,726.0 2090.0,711.8 2091.0,682.6 2091.9,687.3 2092.8,711.9 2093.8,700.3 2094.7,676.9 2095.7,726.0 2096.6,720.7 2097.5,695.4 2098.5,713.6
2099.4,680.9 2100.4,715.5 2101.3,726.0 2102.2,685.5 2103.2,710.7 2104.1,694.5 2105.1,706.5 2106.0,717.2 2106.9,677.9 2107.9,723.2 2108.8,726.0 2109.8,680.2 2110.7,709.5 2111.6,697.9
2112.6,688.5 2113.5,685.9 2114.5,726.0 2115.4,726.0 2116.3,712.4 2117.3,716.1 2118.2,718.8 2119.2,726.0 2120.1,719.3 2121.0,683.7 2122.0,683.0 2122.9,693.2 2123.9,659.3 2124.8,726.0"/>
<path stroke="#00ff00" d="M1184.8,726.0 L1185.7,669.6 1186.7,691.3 1187.6,718.2 1188.6,698.5 1189.5,700.5 1190.4,726.0 1191.4,679.0 1192.3,725.5 1193.3,672.2 1194.2,726.0 1195.1,726.0 1196.1,683.5 1197.0,726.0 1198.0,675.0
1198.9,726.0 1199.8,726.0 1200.8,726.0 1201.7,692.6 1202.7,683.9 1203.6,685.3 1204.5,690.7 1205.5,681.5 1206.4,692.4 1207.4,679.2 1208.3,726.0 1209.2,673.5 1210.2,676.4 1211.1,675.8
1212.1,697.6 1213.0,687.7 1213.9,726.0 1214.9,703.0 1215.8,709.8 1216.8,726.0 1217.7,699.2 1218.6,682.6 1219.6,726.0 1220.5,726.0 1221.5,684.0 1222.4,719.0 1223.3,673.3 1224.3,692.0
1225.2,669.0 1226.2,673.4 1227.1,726.0 1228.0,673.2 1229.0,698.9 1229.9,726.0 1230.9,696.1 1231.8,680.4 1232.7,663.0 1233.7,726.0 1234.6,725.4 1235.6,726.0 1236.5,676.6 1237.4,682.1
1238.4,718.4 1239.3,707.6 1240.3,721.7 1241.2,702.0 1242.1,726.0 1243.1,692.3 1244.0,705.8 1245.0,682.9 1245.9,709.2 1246.8,686.2 1247.8,703.6 1248.7,693.1 1249.7,679.0 1250.6,675.0
1251.5,694.6 1252.5,723.4 1253.4,675.1 1254.4,726.0 1255.3,714.8 1256.2,726.0 1257.2,726.0 1258.1,684.0 1259.1,718.7 1260.0,726.0 1260.9,692.7 1261.9,692.6 1262.8,709.0 1263.8,718.6
1264.7,682.4 1265.6,693.2 1266.6,678.7 1267.5,681.3 1268.5,702.1 1269.4,702.0 1270.3,692.6 1271.3,726.0 1272.2,677.4 1273.2,697.8 1274.1,693.3 1275.0,726.0 1276.0,726.0 1276.9,678.3
1277.9,689.5 1278.8,674.5 1279.7,726.0 1280.7,726.0 1281.6,726.0 1282.6,680.1 1283.5,697.8 1284.4,698.4 1285.4,726.0 1286.3,689.9 1287.3,678.5 1288.2,705.8 1289.1,692.8 1290.1,672.2
1291.0,678.8 1292.0,726.0 1292.9,726.0 1293.8,683.7 1294.8,718.2 1295.7,726.0 1296.7,693.6 1297.6,700.8 1298.5,665.8 1299.5,663.7 1300.4,702.0 1301.4,703.7 1302.3,709.5 1303.2,716.1
1304.2,726.0 1305.1,657.6 1306.1,726.0 1307.0,679.7 1307.9,724.4 1308.9,680.3 1309.8,690.6 1310.8,695.3 1311.7,682.4 1312.6,684.6 1313.6,726.0 1314.5,718.7 1315.5,700.8 1316.4,673.7
1317.3,699.7 1318.3,715.1 1319.2,680.7 1320.2,673.1 1321.1,726.0 1322.0,726.0 1323.0,676.9 1323.9,688.4 1324.9,682.8 1325.8,683.3 1326.7,726.0 1327.7,702.7 1328.6,697.9 1329.6,726.0
1330.5,701.4 1331.4,726.0 1332.4,719.2 1333.3,683.4 1334.3,693.6 1335.2,676.7 1336.1,717.8 1337.1,679.8 1338.0,687.5 1339.0,677.9 1339.9,726.0 1340.8,726.0 1341.8,712.6 1342.7,694.5
1343.7,688.1 1344.6,679.9 1345.5,715.8 1346.5,697.4 1347.4,726.0 1348.4,726.0 1349.3,715.6 1350.2,682.6 1351.2,691.7 1352.1,726.0 1353.1,726.0 1354.0,670.0 1354.9,726.0 1355.9,688.4
1356.8,692.9 1357.8,676.0 1358.7,714.6 1359.6,726.0 1360.6,706.0 1361.5,696.9 1362.5,725.2 1363.4,726.0 1364.3,692.8 1365.3,678.9 1366.2,726.0 1367.2,681.2 1368.1,726.0 1369.0,677.3
1370.0,726.0 1370.9,711.0 1371.9,682.7 1372.8,679.8 1373.7,726.0 1374.7,692.5 1375.6,694.5 1376.6,721.7 1377.5,696.8 1378.4,725.0 1379.4,725.0 1380.3,683.1 1381.3,677.6 1382.2,689.3
1383.1,685.0 1384.1,726.0 1385.0,712.3 1386.0,726.0 1386.9,726.0 1387.8,680.5 1388.8,726.0 1389.7,704.5 1390.7,726.0 1391.6,702.8 1392.5,697.5 1393.5,708.1 1394.4,697.9 1395.4,695.5
1396.3,712.0 1397.2,675.6 1398.2,726.0 1399.1,690.2 1400.1,654.5 1401.0,726.0 1401.9,719.1 1402.9,698.0 1403.8,696.9 1404.8,684.9 1405.7,716.0 1406.6,726.0 1407.6,667.0 1408.5,715.7
1409.5,699.8 1410.4,692.7 1411.3,682.8 1412.3,675.2 1413.2,696.5 1414.2,682.7 1415.1,677.2 1416.0,696.3 1417.0,676.6 1417.9,673.7 1418.9,671.6 1419.8,713.2 1420.7,669.4 1421.7,726.0
1422.6,693.4 1423.6,726.0 1424.5,707.8 1425.4,726.0 1426.4,684.6 1427.3,680.8 1428.3,680.6 1429.2,697.6 1430.1,672.2 1431.1,671.5 1432.0,657.4 1433.0,726.0 1433.9,678.5 1434.8,726.0
1435.8,701.9 1436.7,681.0 1437.7,726.0 1438.6,697.1 1439.5,665.9 1440.5,659.1 1441.4,654.6 1442.4,651.0 1443.3,635.6 1444.2,623.8 1445.2,616.6 1446.1,610.2 1447.1,604.5 1448.0,600.8
1448.9,597.2 1449.9,595.9 1450.8,595.5 1451.8,596.5 1452.7,599.8 1453.6,603.3 1454.6,608.4 1455.5,615.7 1456.5,623.8 1457.4,629.3 1458.3,642.3 1459.3,653.6 1460.2,670.6 1461.2,655.9
1462.1,701.9 1463.0,685.2 1464.0,690.3 1464.9,726.0 1465.9,702.9 1466.8,678.2 1467.7,694.6 1468.7,717.5 1469.6,726.0 1470.6,703.6 1471.5,701.4 1472.4,695.7 1473.4,663.1 1474.3,672.1
1475.3,687.1 1476.2,726.0 1477.1,726.0 1478.1,726.0 1479.0,691.2 1480.0,684.0 1480.9,672.4 1481.8,687.6 1482.8,690.3 1483.7,683.2 1484.7,677.1 1485.6,726.0 1486.5,706.9 1487.5,702.5
1488.4,726.0 1489.4,672.4 1490.3,692.2 1491.2,726.0 1492.2,708.5 1493.1,726.0 1494.1,684.2 1495.0,709.1 1495.9,705.0 1496.9,718.4 1497.8,720.2 1498.8,675.8 1499.7,684.0 1500.6,726.0
1501.6,716.9 1502.5,678.6 1503.5,691.4 1504.4,701.5 1505.3,726.0 1506.3,689.1 1507.2,692.0 1508.2,701.3 1509.1,722.0 1510.0,726.0 1511.0,669.8 1511.9,708.0 1512.9,698.0 1513.8,663.5
1514.7,665.1 1515.7,688.4 1516.6,709.4 1517.6,662.1 1518.5,725.3 1519.4,679.8 1520.4,726.0 1521.3,677.5 1522.3,713.1 1523.2,665.8 1524.1,673.2 1525.1,675.2 1526.0,688.6 1527.0,722.3
1527.9,687.1 1528.8,710.8 1529.8,704.8 1530.7,678.8 1531.7,699.8 1532.6,666.6 1533.5,697.9 1534.5,693.4 1535.4,683.2 1536.4,710.8 1537.3,696.9 1538.2,655.6 1539.2,674.8 1540.1,726.0
1541.1,726.0 1542.0,675.9 1542.9,714.7 1543.9,699.4 1544.8,726.0 1545.8,724.8 1546.7,692.8 1547.6,671.6 1548.6,676.5 1549.5,726.0 1550.5,705.3 1551.4,706.0 1552.3,657.8 1553.3,654.2
1554.2,664.1 1555.2,654.0 1556.1,633.6 1557.0,642.4 1558.0,633.8 1558.9,637.0 1559.9,630.4 1560.8,629.3 1561.7,619.5 1562.7,611.7 1563.6,603.0 1564.6,594.4 1565.5,586.6 1566.4,578.9
1567.4,572.1 1568.3,565.6 1569.3,559.2 1570.2,553.4 1571.1,549.0 1572.1,545.3 1573.0,541.7 1574.0,538.6 1574.9,536.6 1575.8,536.0 1576.8,536.8 1577.7,538.6 1578.7,541.3 1579.6,544.4
1580.5,547.9 1581.5,551.3 1582.4,555.6 1583.4,560.8 1584.3,566.8 1585.2,572.2 1586.2,577.8 1587.1,582.9 1588.1,588.2 1589.0,593.1 1589.9,597.4 1590.9,600.3 1591.8,605.2 1592.8,608.5
1593.7,610.3 1594.6,610.2 1595.6,606.2 1596.5,601.9 1597.5,596.8 1598.4,592.6 1599.3,592.4 1600.3,591.0 1601.2,590.5 1602.2,590.7 1603.1,589.6 1604.0,588.4 1605.0,586.8 1605.9,585.8
1606.9,583.9 1607.8,581.6 1608.7,579.0 1609.7,576.2 1610.6,572.7 1611.6,568.8 1612.5,564.3 1613.4,559.2 1614.4,554.5 1615.3,550.8 1616.3,548.0 1617.2,545.6 1618.1,543.2 1619.1,540.4
1620.0,537.0 1621.0,532.2 1621.9,524.9 1622.8,515.7 1623.8,504.1 1624.7,489.3 1625.7,477.9 1626.6,468.5 1627.5,460.1 1628.5,451.9 1629.4,444.7 1630.4,439.1 1631.3,434.2 1632.2,430.0
1633.2,426.5 1634.1,423.4 1635.1,420.6 1636.0,418.5 1636.9,417.2 1637.9,416.3 1638.8,415.7 1639.8,415.3 1640.7,415.5 1641.6,416.1 1642.6,417.2 1643.5,418.4 1644.5,419.7 1645.4,421.3
1646.3,423.4 1647.3,425.8 1648.2,428.2 1649.2,430.1 1650.1,431.3 1651.0,431.7 1652.0,432.1 1652.9,432.3 1653.9,432.5 1654.8,432.6 1655.7,432.2 1656.7,430.9 1657.6,429.0 1658.6,426.8
1659.5,424.5 1660.4,421.7 1661.4,418.0 1662.3,414.1 1663.3,410.4 1664.2,407.5 1665.1,405.3 1666.1,403.5 1667.0,401.8 1668.0,400.1 1668.9,398.0 1669.8,395.2 1670.8,390.7 1671.7,384.3
1672.7,378.0 1673.6,372.9 1674.5,368.3 1675.5,364.0 1676.4,359.9 1677.4,355.8 1678.3,351.6 1679.2,347.2 1680.2,343.0 1681.1,338.9 1682.1,334.7 1683.0,330.1 1683.9,324.9 1684.9,318.8
1685.8,310.7 1686.8,301.2 1687.7,291.5 1688.6,282.3 1689.6,272.7 1690.5,263.4 1691.5,255.2 1692.4,247.9 1693.3,241.2 1694.3,235.3 1695.2,230.1 1696.2,225.3 1697.1,221.4 1698.0,219.1
1699.0,217.5 1699.9,216.3 1700.9,215.8 1701.8,216.2 1702.7,217.4 1703.7,219.2 1704.6,221.3 1705.6,224.8 1706.5,229.5 1707.4,234.9 1708.4,240.9 1709.3,248.3 1710.3,256.4 1711.2,264.5
1712.1,272.9 1713.1,281.7 1714.0,290.7 1715.0,300.2 1715.9,309.6 1716.8,318.3 1717.8,326.1 1718.7,333.6 1719.7,341.0 1720.6,348.7 1721.5,356.6 1722.5,364.2 1723.4,371.3 1724.4,377.8
1725.3,384.5 1726.2,389.6 1727.2,393.7 1728.1,397.2 1729.1,400.1 1730.0,402.6 1730.9,404.6 1731.9,406.2 1732.8,407.6 1733.8,408.9 1734.7,410.3 1735.6,411.8 1736.6,413.5 1737.5,415.8
1738.5,418.8 1739.4,422.0 1740.3,425.0 1741.3,427.5 1742.2,429.5 1743.2,431.2 1744.1,432.8 1745.0,434.3 1746.0,435.6 1746.9,436.9 1747.9,438.2 1748.8,439.4 1749.7,440.7 1750.7,442.0
1751.6,443.2 1752.6,444.3 1753.5,445.3 1754.4,446.4 1755.4,447.4 1756.3,448.5 1757.3,449.7 1758.2,450.9 1759.1,452.3 1760.1,453.9 1761.0,455.7 1762.0,457.7 1762.9,460.0 1763.8,462.5
1764.8,465.2 1765.7,468.4 1766.7,472.4 1767.6,477.0 1768.5,481.9 1769.5,486.6 1770.4,491.3 1771.4,496.1 1772.3,501.4 1773.2,507.4 1774.2,514.0 1775.1,520.9 1776.1,527.3 1777.0,533.2
1777.9,539.5 1778.9,547.4 1779.8,555.2 1780.8,561.9 1781.7,567.9 1782.6,573.9 1783.6,579.3 1784.5,585.7 1785.5,591.0 1786.4,596.3 1787.3,601.7 1788.3,606.3 1789.2,611.3 1790.2,613.0
1791.1,618.1 1792.0,623.1 1793.0,627.9 1793.9,632.3 1794.9,636.8 1795.8,644.9 1796.7,643.2 1797.7,654.1 1798.6,646.0 1799.6,661.2 1800.5,660.0 1801.4,647.9 1802.4,660.6 1803.3,651.3
1804.3,664.7 1805.2,654.4 1806.1,673.0 1807.1,726.0 1808.0,714.0 1809.0,726.0 1809.9,649.3 1810.8,651.6 1811.8,648.5 1812.7,726.0 1813.7,648.2 1814.6,726.0 1815.5,722.4 1816.5,705.7
1817.4,662.7 1818.4,641.4 1819.3,675.6 1820.2,688.1 1821.2,653.1 1822.1,705.3 1823.1,699.2 1824.0,713.1 1824.9,664.1 1825.9,661.7 1826.8,700.6 1827.8,688.4 1828.7,658.9 1829.6,673.6
1830.6,666.1 1831.5,694.5 1832.5,658.7 1833.4,675.4 1834.3,649.9 1835.3,686.9 1836.2,649.7 1837.2,639.1 1838.1,690.4 1839.0,669.7 1840.0,657.9 1840.9,669.2 1841.9,669.2 1842.8,718.6
1843.7,673.5 1844.7,698.5 1845.6,669.3 1846.6,676.9 1847.5,692.4 1848.4,683.9 1849.4,726.0 1850.3,685.3 1851.3,720.7 1852.2,684.4 1853.1,676.7 1854.1,714.5 1855.0,726.0 1856.0,726.0
1856.9,726.0 1857.8,694.5 1858.8,698.0 1859.7,703.2 1860.7,687.5 1861.6,726.0 1862.5,696.0 1863.5,723.7 1864.4,716.7 1865.4,675.7 1866.3,671.2 1867.2,726.0 1868.2,662.8 1869.1,726.0
1870.1,673.3 1871.0,709.6 1871.9,725.2 1872.9,726.0 1873.8,726.0 1874.8,722.6 1875.7,672.2 1876.6,689.4 1877.6,668.1 1878.5,671.2 1879.5,715.9 1880.4,726.0 1881.3,687.8 1882.3,693.3
1883.2,726.0 1884.2,726.0 1885.1,680.1 1886.0,671.4 1887.0,674.9 1887.9,726.0 1888.9,671.2 1889.8,726.0 1890.7,726.0 1891.7,691.4 1892.6,719.1 1893.6,726.0 1894.5,667.6 1895.4,680.2
1896.4,726.0 1897.3,663.2 1898.3,681.0 1899.2,682.9 1900.1,679.6 1901.1,666.6 1902.0,712.1 1903.0,715.0 1903.9,674.7 1904.8,726.0 1905.8,655.7 1906.7,703.2 1907.7,694.5 1908.6,701.8
1909.5,725.7 1910.5,703.2 1911.4,698.8 1912.4,726.0 1913.3,726.0 1914.2,726.0 1915.2,726.0 1916.1,711.9 1917.1,699.2 1918.0,726.0 1918.9,711.3 1919.9,725.6 1920.8,673.1 1921.8,683.0
1922.7,679.2 1923.6,680.2 1924.6,726.0 1925.5,726.0 1926.5,680.2 1927.4,679.1 1928.3,698.5 1929.3,703.3 1930.2,712.5 1931.2,711.0 1932.1,693.0 1933.0,672.8 1934.0,722.7 1934.9,726.0
1935.9,726.0 1936.8,700.6 1937.7,693.2 1938.7,682.5 1939.6,676.8 1940.6,713.8 1941.5,657.6 1942.4,726.0 1943.4,682.2 1944.3,726.0 1945.3,677.7 1946.2,672.7 1947.1,682.7 1948.1,726.0
1949.0,716.3 1950.0,684.3 1950.9,726.0 1951.8,669.6 1952.8,726.0 1953.7,701.3 1954.7,726.0 1955.6,696.0 1956.5,672.3 1957.5,683.3 1958.4,711.8 1959.4,680.9 1960.3,684.6 1961.2,706.5
1962.2,689.5 1963.1,722.8 1964.1,692.3 1965.0,726.0 1965.9,688.8 1966.9,710.0 1967.8,706.2 1968.8,715.3 1969.7,684.9 1970.6,726.0 1971.6,726.0 1972.5,684.2 1973.5,726.0 1974.4,681.2
1975.3,661.9 1976.3,694.0 1977.2,703.9 1978.2,679.1 1979.1,684.9 1980.0,673.7 1981.0,726.0 1981.9,705.3 1982.9,665.2 1983.8,724.1 1984.7,715.6 1985.7,726.0 1986.6,726.0 1987.6,726.0
1988.5,699.4 1989.4,726.0 1990.4,726.0 1991.3,671.8 1992.3,722.1 1993.2,670.2 1994.1,712.7 1995.1,678.7 1996.0,683.6 1997.0,726.0 1997.9,674.9 1998.8,686.5 1999.8,682.8 2000.7,676.1
2001.7,726.0 2002.6,676.8 2003.5,674.0 2004.5,708.5 2005.4,709.8 2006.4,676.6 2007.3,679.5 2008.2,726.0 2009.2,686.1 2010.1,704.1 2011.1,726.0 2012.0,726.0 2012.9,717.6 2013.9,725.6
2014.8,672.6 2015.8,700.3 2016.7,726.0 2017.6,692.2 2018.6,726.0 2019.5,724.4 2020.5,726.0 2021.4,686.2 2022.3,726.0 2023.3,666.9 2024.2,685.8 2025.2,726.0 2026.1,696.5 2027.0,721.0
2028.0,686.4 2028.9,676.7 2029.9,722.9 2030.8,681.1 2031.7,685.2 2032.7,726.0 2033.6,726.0 2034.6,700.1 2035.5,678.4 2036.4,717.5 2037.4,670.3 2038.3,702.5 2039.3,724.3 2040.2,702.1
2041.1,712.1 2042.1,679.9 2043.0,703.4 2044.0,678.3 2044.9,681.5 2045.8,726.0 2046.8,726.0 2047.7,664.5 2048.7,675.7 2049.6,672.0 2050.5,678.8 2051.5,726.0 2052.4,693.1 2053.4,689.9
2054.3,694.2 2055.2,716.3 2056.2,683.8 2057.1,689.7 2058.1,687.9 2059.0,681.4 2059.9,679.1 2060.9,687.4 2061.8,709.5 2062.8,689.3 2063.7,726.0 2064.6,677.5 2065.6,686.2 2066.5,726.0
2067.5,685.3 2068.4,716.2 2069.3,726.0 2070.3,726.0 2071.2,690.8 2072.2,726.0 2073.1,681.8 2074.0,712.4 2075.0,699.6 2075.9,677.2 2076.9,726.0 2077.8,667.9 2078.7,725.3 2079.7,726.0
2080.6,683.2 2081.6,726.0 2082.5,726.0 2083.4,726.0 2084.4,672.2 2085.3,716.7 2086.3,676.6 2087.2,700.4 2088.1,726.0 2089.1,726.0 2090.0,681.8 2091.0,726.0 2091.9,691.9 2092.8,726.0
2093.8,672.4 2094.7,715.5 2095.7,664.9 2096.6,710.5 2097.5,676.2 2098.5,697.7 2099.4,683.7 2100.4,726.0 2101.3,676.6 2102.2,726.0 2103.2,715.4 2104.1,710.4 2105.1,690.2 2106.0,712.5
2106.9,701.3 2107.9,721.0 2108.8,720.8 2109.8,707.8 2110.7,726.0 2111.6,678.0 2112.6,726.0 2113.5,682.3 2114.5,673.3 2115.4,686.5 2116.3,726.0 2117.3,726.0 2118.2,726.0 2119.2,676.6
2120.1,674.0 2121.0,697.5 2122.0,684.8 2122.9,726.0 2123.9,687.3 2124.8,709.6"/>
<path stroke="#ff00ff" d="M1184.8,679.0 L1185.7,682.1 1186.7,697.3 1187.6,720.3 1188.6,684.5 1189.5,726.0 1190.4,667.0 1191.4,726.0 1192.3,710.6 1193.3,678.7 1194.2,721.3 1195.1,681.0 1196.1,663.2 1197.0,687.7 1198.0,660.0
1198.9,676.0 1199.8,726.0 1200.8,673.9 1201.7,677.1 1202.7,701.9 1203.6,726.0 1204.5,676.4 1205.5,705.5 1206.4,719.7 1207.4,705.6 1208.3,671.2 1209.2,685.1 1210.2,686.1 1211.1,713.1
1212.1,687.6 1213.0,726.0 1213.9,726.0 1214.9,724.7 1215.8,688.7 1216.8,694.5 1217.7,684.2 1218.6,683.3 1219.6,726.0 1220.5,692.0 1221.5,726.0 1222.4,691.7 1223.3,726.0 1224.3,652.2
1225.2,681.7 1226.2,726.0 1227.1,678.7 1228.0,710.0 1229.0,713.7 1229.9,676.4 1230.9,726.0 1231.8,678.9 1232.7,685.0 1233.7,677.5 1234.6,726.0 1235.6,668.2 1236.5,683.8 1237.4,726.0
1238.4,684.0 1239.3,650.1 1240.3,726.0 1241.2,679.0 1242.1,720.5 1243.1,689.7 1244.0,676.7 1245.0,701.1 1245.9,678.7 1246.8,713.7 1247.8,669.2 1248.7,656.5 1249.7,671.9 1250.6,714.5
1251.5,720.7 1252.5,707.0 1253.4,684.0 1254.4,670.5 1255.3,671.7 1256.2,726.0 1257.2,726.0 1258.1,726.0 1259.1,718.3 1260.0,651.8 1260.9,656.1 1261.9,726.0 1262.8,694.7 1263.8,701.6
1264.7,726.0 1265.6,722.6 1266.6,671.7 1267.5,687.8 1268.5,693.0 1269.4,681.6 1270.3,680.9 1271.3,658.6 1272.2,708.1 1273.2,675.1 1274.1,726.0 1275.0,673.3 1276.0,684.0 1276.9,726.0
1277.9,718.7 1278.8,698.4 1279.7,677.3 1280.7,718.0 1281.6,710.7 1282.6,668.3 1283.5,723.0 1284.4,677.7 1285.4,726.0 1286.3,679.1 1287.3,688.6 1288.2,719.7 1289.1,726.0 1290.1,665.5
1291.0,680.5 1292.0,726.0 1292.9,677.6 1293.8,717.0 1294.8,674.2 1295.7,726.0 1296.7,675.1 1297.6,677.0 1298.5,678.5 1299.5,716.6 1300.4,720.2 1301.4,682.7 1302.3,724.8 1303.2,685.4
1304.2,726.0 1305.1,672.5 1306.1,701.4 1307.0,673.8 1307.9,704.4 1308.9,674.1 1309.8,685.3 1310.8,689.1 1311.7,674.4 1312.6,683.7 1313.6,669.3 1314.5,695.0 1315.5,680.4 1316.4,720.3
1317.3,680.1 1318.3,691.2 1319.2,714.6 1320.2,726.0 1321.1,656.7 1322.0,673.3 1323.0,671.2 1323.9,697.6 1324.9,688.6 1325.8,695.4 1326.7,701.9 1327.7,726.0 1328.6,718.8 1329.6,665.1
1330.5,670.2 1331.4,702.6 1332.4,694.8 1333.3,692.8 1334.3,708.8 1335.2,713.9 1336.1,726.0 1337.1,726.0 1338.0,675.2 1339.0,656.7 1339.9,668.9 1340.8,726.0 1341.8,705.1 1342.7,726.0
1343.7,674.4 1344.6,700.5 1345.5,660.8 1346.5,679.1 1347.4,664.0 1348.4,679.4 1349.3,725.5 1350.2,702.5 1351.2,701.4 1352.1,726.0 1353.1,709.5 1354.0,703.6 1354.9,669.2 1355.9,657.1
1356.8,696.8 1357.8,726.0 1358.7,692.6 1359.6,703.0 1360.6,726.0 1361.5,683.7 1362.5,726.0 1363.4,726.0 1364.3,726.0 1365.3,726.0 1366.2,726.0 1367.2,716.5 1368.1,669.7 1369.0,702.6
1370.0,662.5 1370.9,719.0 1371.9,695.9 1372.8,694.4 1373.7,671.0 1374.7,716.2 1375.6,675.4 1376.6,712.4 1377.5,717.0 1378.4,684.2 1379.4,702.0 1380.3,695.7 1381.3,666.9 1382.2,658.2
1383.1,685.1 1384.1,691.2 1385.0,705.9 1386.0,725.5 1386.9,726.0 1387.8,693.4 1388.8,654.4 1389.7,713.0 1390.7,670.5 1391.6,679.8 1392.5,664.7 1393.5,713.3 1394.4,685.2 1395.4,662.0
1396.3,691.1 1397.2,676.1 1398.2,668.6 1399.1,678.0 1400.1,726.0 1401.0,673.8 1401.9,690.3 1402.9,680.5 1403.8,673.9 1404.8,726.0 1405.7,678.6 1406.6,688.8 1407.6,697.5 1408.5,726.0
1409.5,668.2 1410.4,706.4 1411.3,726.0 1412.3,726.0 1413.2,658.0 1414.2,667.1 1415.1,670.3 1416.0,683.5 1417.0,726.0 1417.9,720.6 1418.9,726.0 1419.8,718.8 1420.7,726.0 1421.7,695.8
1422.6,692.8 1423.6,667.2 1424.5,683.8 1425.4,675.9 1426.4,662.5 1427.3,663.4 1428.3,655.0 1429.2,656.4 1430.1,675.5 1431.1,669.8 1432.0,654.2 1433.0,649.1 1433.9,647.7 1434.8,648.0
1435.8,647.9 1436.7,633.2 1437.7,634.9 1438.6,624.5 1439.5,613.2 1440.5,604.6 1441.4,600.9 1442.4,596.4 1443.3,591.4 1444.2,588.3 1445.2,585.6 1446.1,582.8 1447.1,581.6 1448.0,580.6
1448.9,579.5 1449.9,579.1 1450.8,579.2 1451.8,579.4 1452.7,580.3 1453.6,581.4 1454.6,582.6 1455.5,584.5 1456.5,587.5 1457.4,591.7 1458.3,595.9 1459.3,601.0 1460.2,607.1 1461.2,613.2
1462.1,619.0 1463.0,623.6 1464.0,628.3 1464.9,632.5 1465.9,637.6 1466.8,648.4 1467.7,663.4 1468.7,695.1 1469.6,685.5 1470.6,686.7 1471.5,664.0 1472.4,660.4 1473.4,652.4 1474.3,650.9
1475.3,651.9 1476.2,647.2 1477.1,645.0 1478.1,649.5 1479.0,648.1 1480.0,646.6 1480.9,643.1 1481.8,642.0 1482.8,642.0 1483.7,638.4 1484.7,636.9 1485.6,635.6 1486.5,630.1 1487.5,627.3
1488.4,623.0 1489.4,619.1 1490.3,614.7 1491.2,609.7 1492.2,604.9 1493.1,599.2 1494.1,594.0 1495.0,587.8 1495.9,581.8 1496.9,576.4 1497.8,571.1 1498.8,566.2 1499.7,561.4 1500.6,556.4
1501.6,550.8 1502.5,544.2 1503.5,537.3 1504.4,530.8 1505.3,524.9 1506.3,519.4 1507.2,513.9 1508.2,508.4 1509.1,502.6 1510.0,496.1 1511.0,489.3 1511.9,483.0 1512.9,477.9 1513.8,473.4
1514.7,469.4 1515.7,465.8 1516.6,462.7 1517.6,460.1 1518.5,457.8 1519.4,455.9 1520.4,454.1 1521.3,452.5 1522.3,450.9 1523.2,449.3 1524.1,447.6 1525.1,445.7 1526.0,443.6 1527.0,441.1
1527.9,438.3 1528.8,435.2 1529.8,432.0 1530.7,428.6 1531.7,425.2 1532.6,421.9 1533.5,418.8 1534.5,415.6 1535.4,412.3 1536.4,409.1 1537.3,405.8 1538.2,402.7 1539.2,399.7 1540.1,396.9
1541.1,394.3 1542.0,391.9 1542.9,389.6 1543.9,387.4 1544.8,385.2 1545.8,383.0 1546.7,380.8 1547.6,378.5 1548.6,376.0 1549.5,373.4 1550.5,370.5 1551.4,367.5 1552.3,364.3 1553.3,361.1
1554.2,357.9 1555.2,354.7 1556.1,351.8 1557.0,349.2 1558.0,346.5 1558.9,343.4 1559.9,339.5 1560.8,334.6 1561.7,325.3 1562.7,312.4 1563.6,300.6 1564.6,288.7 1565.5,278.4 1566.4,269.9
1567.4,262.2 1568.3,255.2 1569.3,248.7 1570.2,242.2 1571.1,236.3 1572.1,231.9 1573.0,229.1 1574.0,226.6 1574.9,224.8 1575.8,224.3 1576.8,225.2 1577.7,227.2 1578.7,229.9 1579.6,233.0
1580.5,237.9 1581.5,244.1 1582.4,250.7 1583.4,257.4 1584.3,264.8 1585.2,272.7 1586.2,281.0 1587.1,290.2 1588.1,299.7 1589.0,308.9 1589.9,317.6 1590.9,326.2 1591.8,334.8 1592.8,343.5
1593.7,352.2 1594.6,360.5 1595.6,368.6 1596.5,375.5 1597.5,381.7 1598.4,386.7 1599.3,389.7 1600.3,391.9 1601.2,393.6 1602.2,395.2 1603.1,396.7 1604.0,398.5 1605.0,400.7 1605.9,403.2
1606.9,405.8 1607.8,408.5 1608.7,411.2 1609.7,413.9 1610.6,416.5 1611.6,419.3 1612.5,422.2 1613.4,425.0 1614.4,427.5 1615.3,429.5 1616.3,430.7 1617.2,431.8 1618.1,432.7 1619.1,433.6
1620.0,434.4 1621.0,435.0 1621.9,435.5 1622.8,435.9 1623.8,436.0 1624.7,435.9 1625.7,435.7 1626.6,435.4 1627.5,435.0 1628.5,434.5 1629.4,433.9 1630.4,433.0 1631.3,431.5 1632.2,429.5
1633.2,427.6 1634.1,425.9 1635.1,424.7 1636.0,423.4 1636.9,422.5 1637.9,422.2 1638.8,422.9 1639.8,424.0 1640.7,425.2 1641.6,426.0 1642.6,426.8 1643.5,427.6 1644.5,428.2 1645.4,428.7
1646.3,429.0 1647.3,429.1 1648.2,429.0 1649.2,428.8 1650.1,428.5 1651.0,428.1 1652.0,427.6 1652.9,427.1 1653.9,426.5 1654.8,425.8 1655.7,424.7 1656.7,423.0 1657.6,420.8 1658.6,418.1
1659.5,415.3 1660.4,411.4 1661.4,406.5 1662.3,401.8 1663.3,398.6 1664.2,396.5 1665.1,394.9 1666.1,393.4 1667.0,391.5 1668.0,389.0 1668.9,385.5 1669.8,381.4 1670.8,377.1 1671.7,373.1
1672.7,369.4 1673.6,365.7 1674.5,362.0 1675.5,358.3 1676.4,354.6 1677.4,350.6 1678.3,346.6 1679.2,342.6 1680.2,338.6 1681.1,334.3 1682.1,329.7 1683.0,324.5 1683.9,318.4 1684.9,310.5
1685.8,301.2 1686.8,291.8 1687.7,282.8 1688.6,273.5 1689.6,264.4 1690.5,256.3 1691.5,249.3 1692.4,242.8 1693.3,237.0 1694.3,232.1 1695.2,227.4 1696.2,223.2 1697.1,220.3 1698.0,218.7
1699.0,217.5 1699.9,216.6 1700.9,216.3 1701.8,216.7 1702.7,217.9 1703.7,219.6 1704.6,221.6 1705.6,224.8 1706.5,229.0 1707.4,233.9 1708.4,239.2 1709.3,245.8 1710.3,253.3 1711.2,261.0
1712.1,269.2 1713.1,277.9 1714.0,286.9 1715.0,296.1 1715.9,305.7 1716.8,314.8 1717.8,322.9 1718.7,330.4 1719.7,337.8 1720.6,345.3 1721.5,353.2 1722.5,361.0 1723.4,368.4 1724.4,375.1
1725.3,381.0 1726.2,386.1 1727.2,390.2 1728.1,393.9 1729.1,397.1 1730.0,399.9 1730.9,402.1 1731.9,404.0 1732.8,405.5 1733.8,406.9 1734.7,408.1 1735.6,409.5 1736.6,411.0 1737.5,412.8
1738.5,415.2 1739.4,418.2 1740.3,421.5 1741.3,424.5 1742.2,426.8 1743.2,428.7 1744.1,430.4 1745.0,431.9 1746.0,433.4 1746.9,434.7 1747.9,436.0 1748.8,437.2 1749.7,438.4 1750.7,439.6
1751.6,440.9 1752.6,442.1 1753.5,443.2 1754.4,444.3 1755.4,445.3 1756.3,446.3 1757.3,447.4 1758.2,448.6 1759.1,449.8 1760.1,451.2 1761.0,452.8 1762.0,454.6 1762.9,456.5 1763.8,458.7
1764.8,461.2 1765.7,464.0 1766.7,467.3 1767.6,471.7 1768.5,477.0 1769.5,482.5 1770.4,487.4 1771.4,492.3 1772.3,497.3 1773.2,502.9 1774.2,509.2 1775.1,516.2 1776.1,523.2 1777.0,529.7
1777.9,536.0 1778.9,543.0 1779.8,551.0 1780.8,558.3 1781.7,564.5 1782.6,570.2 1783.6,575.7 1784.5,581.6 1785.5,587.6 1786.4,593.3 1787.3,598.4 1788.3,602.3 1789.2,606.6 1790.2,611.7
1791.1,615.2 1792.0,617.7 1793.0,621.8 1793.9,626.0 1794.9,627.2 1795.8,628.7 1796.7,625.4 1797.7,629.4 1798.6,633.1 1799.6,630.0 1800.5,631.5 1801.4,631.5 1802.4,623.8 1803.3,634.1
1804.3,638.7 1805.2,633.9 1806.1,654.4 1807.1,661.4 1808.0,663.3 1809.0,641.5 1809.9,640.3 1810.8,639.1 1811.8,635.3 1812.7,627.8 1813.7,622.3 1814.6,621.9 1815.5,614.1 1816.5,612.0
1817.4,607.5 1818.4,603.6 1819.3,597.3 1820.2,594.8 1821.2,591.7 1822.1,588.9 1823.1,586.2 1824.0,583.9 1824.9,582.7 1825.9,581.9 1826.8,581.6 1827.8,581.5 1828.7,582.9 1829.6,584.6
1830.6,586.6 1831.5,589.9 1832.5,593.4 1833.4,597.2 1834.3,603.1 1835.3,608.9 1836.2,616.0 1837.2,621.7 1838.1,628.9 1839.0,631.0 1840.0,635.7 1840.9,651.7 1841.9,648.2 1842.8,665.4
1843.7,655.7 1844.7,679.0 1845.6,685.0 1846.6,662.8 1847.5,683.6 1848.4,676.1 1849.4,719.2 1850.3,668.2 1851.3,670.5 1852.2,690.9 1853.1,695.2 1854.1,679.5 1855.0,698.2 1856.0,726.0
1856.9,724.6 1857.8,716.3 1858.8,679.8 1859.7,685.4 1860.7,692.0 1861.6,671.9 1862.5,726.0 1863.5,690.9 1864.4,669.3 1865.4,706.8 1866.3,697.5 1867.2,694.5 1868.2,660.2 1869.1,702.6
1870.1,698.8 1871.0,673.6 1871.9,692.5 1872.9,725.6 1873.8,698.3 1874.8,700.5 1875.7,669.7 1876.6,721.7 1877.6,679.1 1878.5,664.9 1879.5,682.8 1880.4,693.0 1881.3,726.0 1882.3,678.6
1883.2,669.2 1884.2,686.9 1885.1,726.0 1886.0,711.4 1887.0,698.0 1887.9,726.0 1888.9,710.3 1889.8,690.0 1890.7,726.0 1891.7,726.0 1892.6,675.7 1893.6,698.6 1894.5,660.3 1895.4,672.4
1896.4,726.0 1897.3,690.0 1898.3,670.3 1899.2,670.8 1900.1,676.5 1901.1,691.0 1902.0,699.7 1903.0,726.0 1903.9,719.4 1904.8,652.1 1905.8,708.9 1906.7,701.3 1907.7,707.2 1908.6,683.4
1909.5,726.0 1910.5,668.7 1911.4,667.8 1912.4,680.4 1913.3,707.7 1914.2,701.8 1915.2,704.9 1916.1,669.2 1917.1,703.7 1918.0,721.4 1918.9,674.0 1919.9,726.0 1920.8,701.8 1921.8,717.2
1922.7,698.3 1923.6,685.4 1924.6,686.4 1925.5,689.6 1926.5,676.7 1927.4,668.7 1928.3,678.6 1929.3,669.2 1930.2,706.5 1931.2,680.0 1932.1,675.3 1933.0,680.2 1934.0,674.9 1934.9,726.0
1935.9,695.8 1936.8,707.5 1937.7,672.2 1938.7,676.9 1939.6,670.4 1940.6,660.6 1941.5,691.4 1942.4,707.0 1943.4,658.1 1944.3,714.2 1945.3,697.3 1946.2,696.0 1947.1,691.9 1948.1,666.9
1949.0,688.6 1950.0,678.7 1950.9,666.2 1951.8,653.0 1952.8,686.4 1953.7,682.7 1954.7,675.4 1955.6,683.5 1956.5,723.1 1957.5,680.0 1958.4,697.2 1959.4,721.2 1960.3,664.6 1961.2,706.5
1962.2,662.2 1963.1,655.3 1964.1,671.9 1965.0,690.6 1965.9,726.0 1966.9,726.0 1967.8,686.7 1968.8,705.0 1969.7,677.7 1970.6,666.6 1971.6,697.0 1972.5,661.1 1973.5,675.7 1974.4,714.2
1975.3,687.4 1976.3,682.7 1977.2,679.7 1978.2,726.0 1979.1,713.8 1980.0,694.0 1981.0,726.0 1981.9,719.7 1982.9,704.0 1983.8,683.3 1984.7,687.4 1985.7,686.4 1986.6,711.0 1987.6,726.0
1988.5,667.5 1989.4,726.0 1990.4,678.8 1991.3,709.7 1992.3,647.8 1993.2,665.4 1994.1,695.9 1995.1,666.2 1996.0,682.8 1997.0,726.0 1997.9,661.0 1998.8,659.2 1999.8,683.7 2000.7,649.3
2001.7,709.0 2002.6,724.8 2003.5,699.7 2004.5,726.0 2005.4,705.4 2006.4,648.2 2007.3,714.7 2008.2,691.8 2009.2,694.8 2010.1,668.2 2011.1,647.4 2012.0,705.9 2012.9,716.2 2013.9,691.7
2014.8,682.9 2015.8,667.9 2016.7,677.0 2017.6,703.1 2018.6,657.6 2019.5,718.8 2020.5,715.0 2021.4,701.4 2022.3,657.7 2023.3,723.5 2024.2,692.7 2025.2,678.9 2026.1,725.6 2027.0,664.7
2028.0,673.5 2028.9,692.3 2029.9,679.9 2030.8,704.4 2031.7,726.0 2032.7,663.2 2033.6,717.6 2034.6,669.3 2035.5,671.8 2036.4,685.0 2037.4,680.1 2038.3,672.8 2039.3,706.5 2040.2,694.7
2041.1,678.8 2042.1,726.0 2043.0,705.4 2044.0,722.1 2044.9,705.3 2045.8,692.0 2046.8,678.5 2047.7,726.0 2048.7,675.4 2049.6,726.0 2050.5,677.7 2051.5,726.0 2052.4,723.4 2053.4,726.0
2054.3,726.0 2055.2,710.4 2056.2,680.8 2057.1,679.3 2058.1,722.8 2059.0,654.1 2059.9,665.1 2060.9,652.4 2061.8,672.3 2062.8,659.5 2063.7,719.2 2064.6,726.0 2065.6,686.5 2066.5,694.4
2067.5,702.9 2068.4,670.9 2069.3,726.0 2070.3,680.7 2071.2,697.6 2072.2,683.9 2073.1,710.5 2074.0,698.9 2075.0,726.0 2075.9,672.9 2076.9,695.7 2077.8,680.4 2078.7,672.3 2079.7,682.4
2080.6,718.6 2081.6,675.7 2082.5,726.0 2083.4,682.4 2084.4,726.0 2085.3,677.1 2086.3,670.9 2087.2,689.7 2088.1,695.8 2089.1,700.8 2090.0,682.9 2091.0,657.0 2091.9,674.6 2092.8,708.6
2093.8,678.7 2094.7,726.0 2095.7,690.1 2096.6,669.7 2097.5,684.1 2098.5,726.0 2099.4,647.3 2100.4,686.3 2101.3,677.5 2102.2,726.0 2103.2,703.7 2104.1,688.6 2105.1,694.9 2106.0,726.0
2106.9,684.0 2107.9,680.3 2108.8,657.4 2109.8,663.7 2110.7,726.0 2111.6,694.9 2112.6,674.6 2113.5,713.4 2114.5,699.8 2115.4,657.4 2116.3,674.1 2117.3,669.6 2118.2,707.0 2119.2,706.5
2120.1,672.6 2121.0,726.0 2122.0,665.4 2122.9,726.0 2123.9,726.0 2124.8,678.1"/>
</g>
<rect x="1828.4" y="34.2" width="333.9" height="150.4" fill="#fff" stroke="#6a6a6a" stroke-width="2.8"/>
<line x1="1827.0" y1="34.2" x2="2163.7" y2="34.2" stroke="#505050" stroke-width="3.2"/>
<line x1="1836.3" y1="61.7" x2="1918.4" y2="61.7" stroke="#0000ff" stroke-width="5.4"/>
<text x="1923.5" y="75.9" font-size="40.5" letter-spacing="0.39">X-DPMZM</text>
<line x1="1836.3" y1="109.8" x2="1918.4" y2="109.8" stroke="#00ff00" stroke-width="5.4"/>
<text x="1924.5" y="122.9" font-size="40.5" letter-spacing="0.25">Y-DPMZM</text>
<line x1="1836.3" y1="157.4" x2="1918.4" y2="157.4" stroke="#ff00ff" stroke-width="5.4"/>
<text x="1923.8" y="172.2" font-size="40.5" letter-spacing="0.15">DP-DPMZM</text>
<!-- right annotations -->
<line x1="1507.5" y1="211.7" x2="1769.3" y2="211.7" stroke="#000" stroke-width="6"/>
<line x1="1604.4" y1="409.1" x2="1677.4" y2="409.1" stroke="#000" stroke-width="6"/>
<line x1="1508" y1="527.4" x2="1614.7" y2="527.4" stroke="#000" stroke-width="6"/>
<line x1="1546" y1="229.3" x2="1546" y2="509.9" stroke="#000" stroke-width="6.5"/>
<path d="M1546,213.8 l9.4,17.5 h-18.8 z" fill="#000"/>
<path d="M1546,525.4 l9.4,-17.5 h-18.8 z" fill="#000"/>
<line x1="1640" y1="229.3" x2="1640" y2="392.1" stroke="#000" stroke-width="6.5"/>
<path d="M1640,213.8 l9.4,17.5 h-18.8 z" fill="#000"/>
<path d="M1640,407.6 l9.4,-17.5 h-18.8 z" fill="#000"/>
<text x="1321.5" y="353.7" font-size="57" letter-spacing="0.66">36.7 dB</text>
<text x="1715.4" y="293.7" font-size="57" letter-spacing="0.75">22.6 dB</text>
<!-- y tick labels -->
<text x="138.8" y="55.6" font-size="55.5" class="tk">0</text>
<text x="90.8" y="226.5" font-size="55.5" letter-spacing="0.95" class="tk">-20</text>
<text x="90.8" y="397.4" font-size="55.5" letter-spacing="0.95" class="tk">-40</text>
<text x="90.8" y="568.3" font-size="55.5" letter-spacing="0.95" class="tk">-60</text>
<text x="90.8" y="739.3" font-size="55.5" letter-spacing="0.95" class="tk">-80</text>
<!-- x tick labels -->
<text x="175.8" y="785.8" font-size="55.5" letter-spacing="0.35" class="tk">1549.8</text>
<text x="392.9" y="785.8" font-size="55.5" letter-spacing="1.00" class="tk">1550</text>
<text x="566.5" y="785.8" font-size="55.5" letter-spacing="0.14" class="tk">1550.2</text>
<text x="761.8" y="785.8" font-size="55.5" letter-spacing="0.13" class="tk">1550.4</text>
<text x="957.6" y="785.8" font-size="55.5" letter-spacing="0.28" class="tk">1550.6</text>
<text x="1179.1" y="784.0" font-size="55.5" letter-spacing="-0.14" class="tk">1549.8</text>
<text x="1393.1" y="784.0" font-size="55.5" letter-spacing="0.15" class="tk">1550</text>
<text x="1568.7" y="784.0" font-size="55.5" letter-spacing="-0.17" class="tk">1550.2</text>
<text x="1764.0" y="784.0" font-size="55.5" letter-spacing="-0.10" class="tk">1550.4</text>
<text x="1959.8" y="784.0" font-size="55.5" class="tk">1550.6</text>
<!-- axis labels -->
<text transform="translate(71.0,651.8) rotate(-90)" font-size="60" letter-spacing="0.08">Optical Power (dBm)</text>
<text x="971.9" y="901.8" font-size="59.5" letter-spacing="-0.75">Wavelength (nm)</text>
<text x="679.0" y="841.6" font-size="55.5" letter-spacing="2.15">(a)</text>
<text x="1649.0" y="841.6" font-size="55.5" letter-spacing="2.00">(b)</text>
</svg>
</body>
</html>
